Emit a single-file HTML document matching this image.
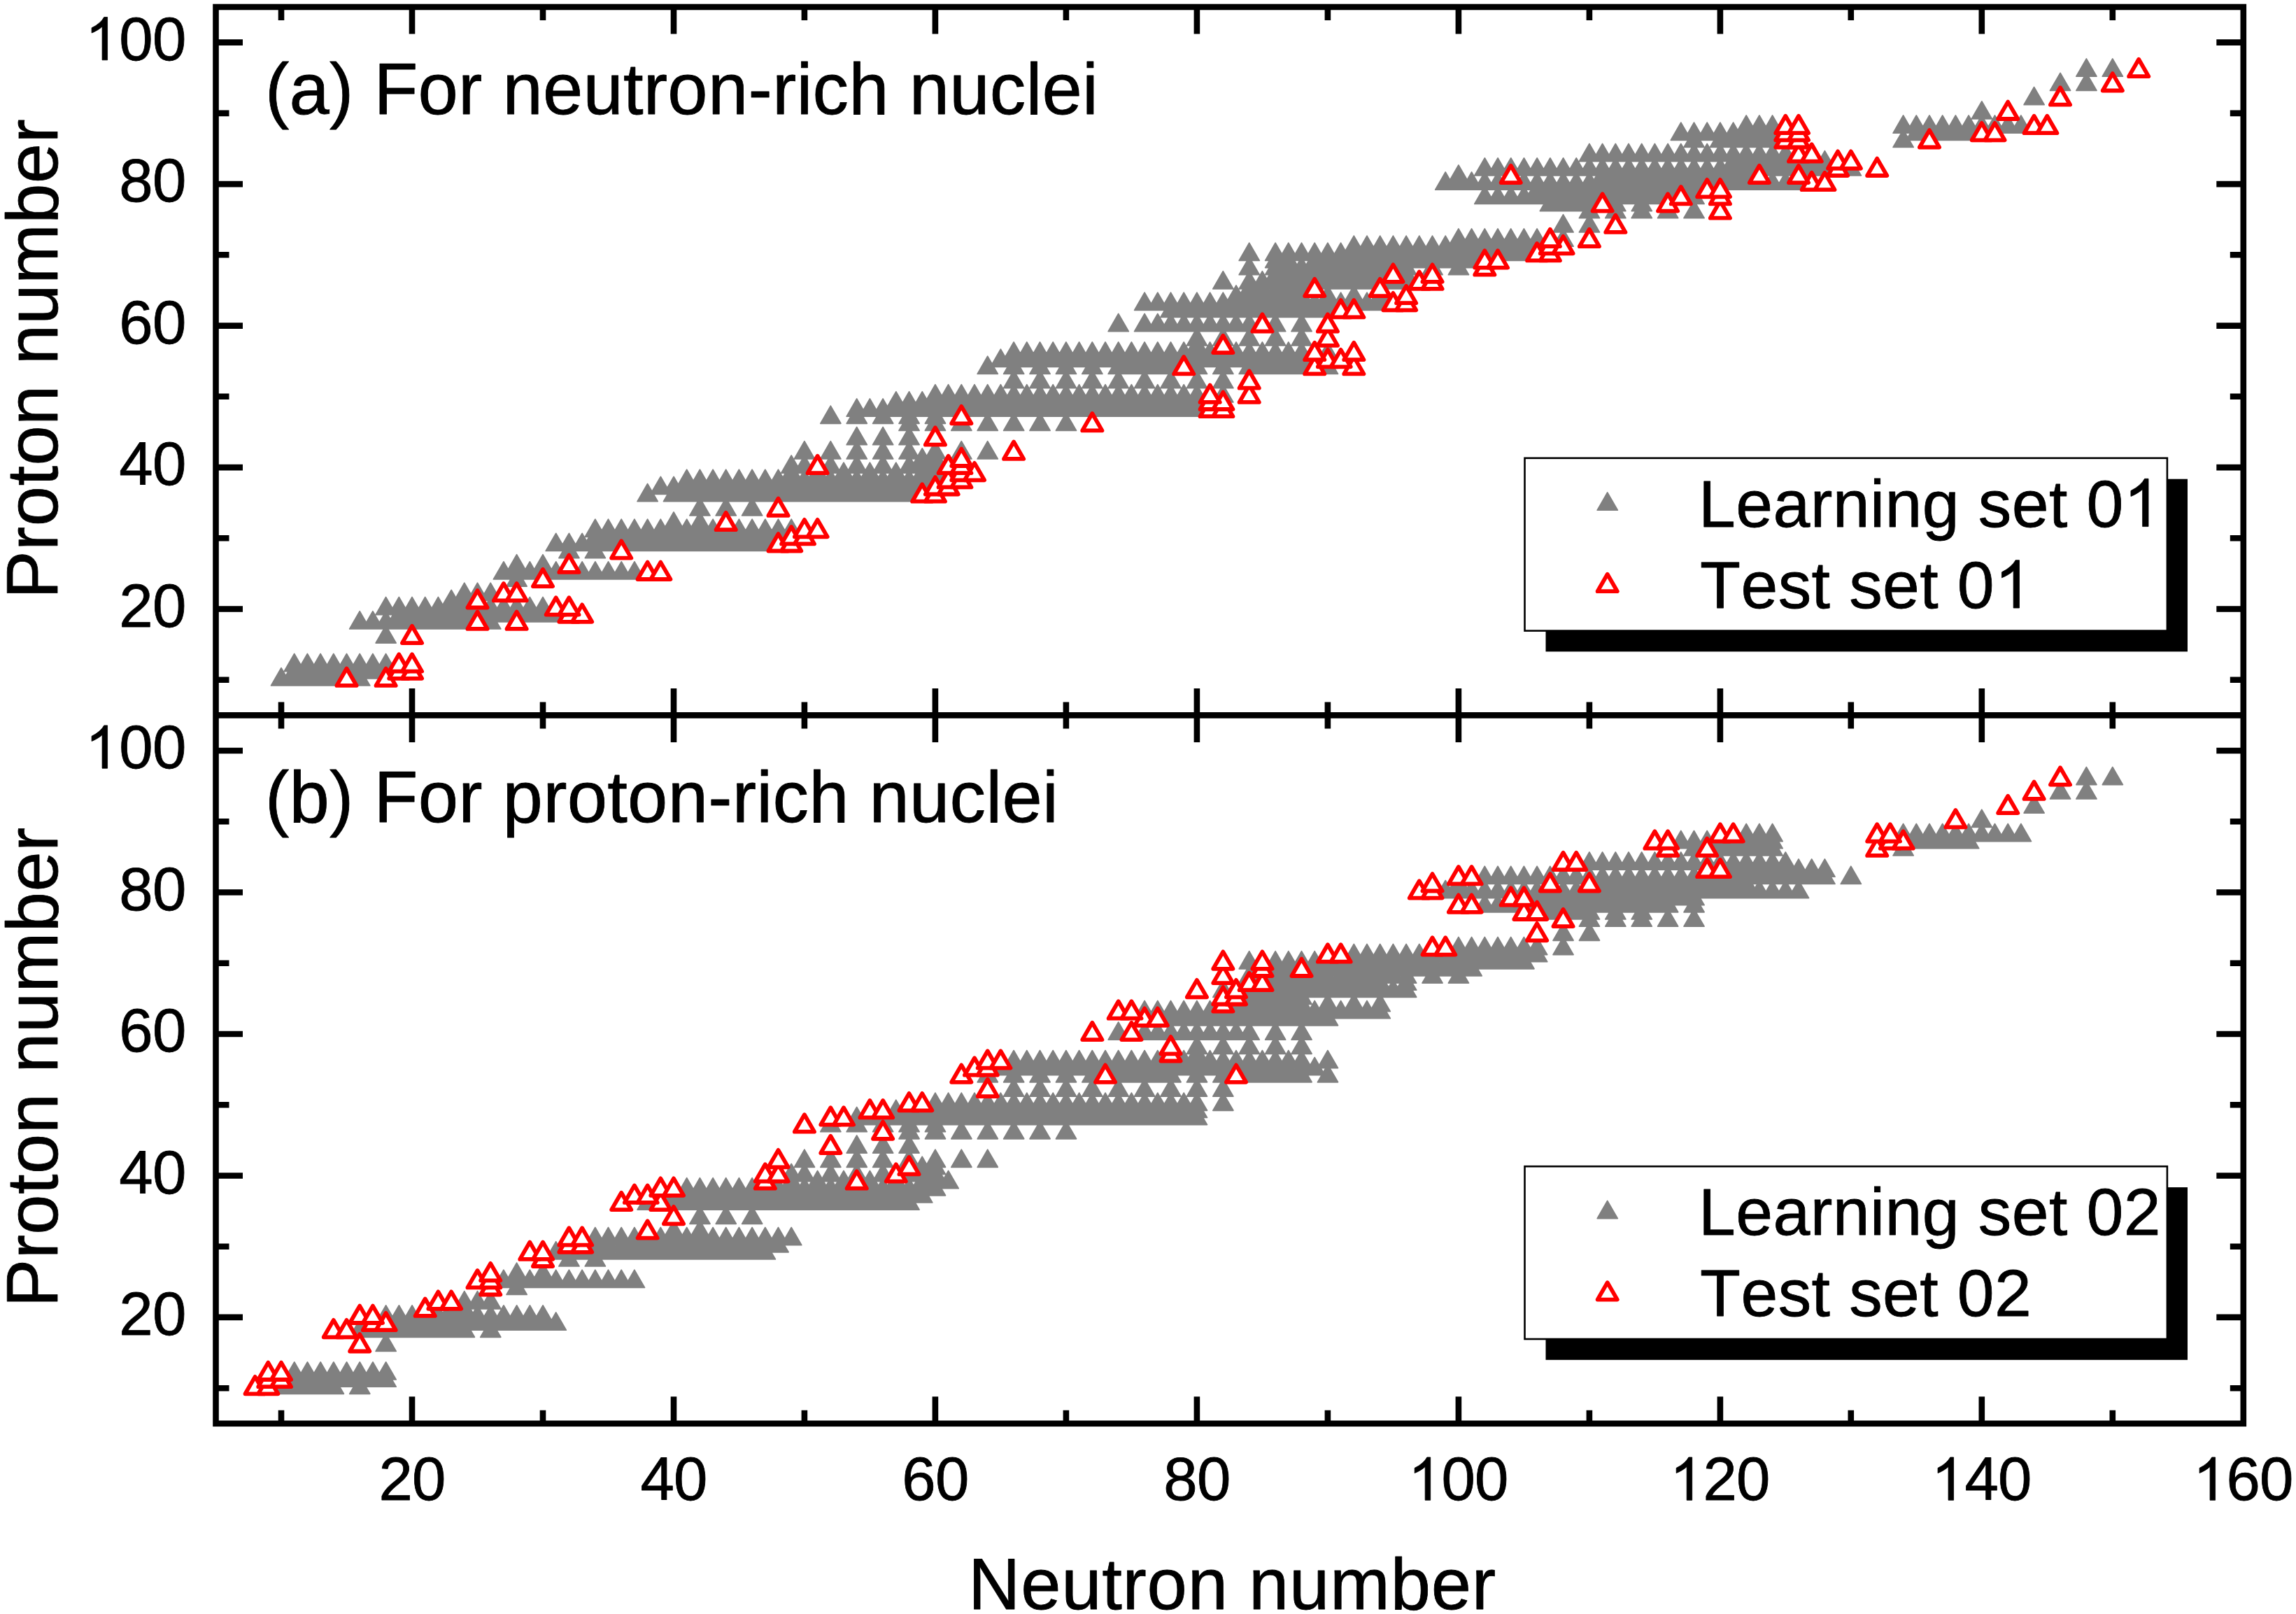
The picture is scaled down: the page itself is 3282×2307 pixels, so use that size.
<!DOCTYPE html><html><head><meta charset="utf-8"><title>chart</title><style>html,body{margin:0;padding:0;background:#fff}svg{display:block}text{font-family:"Liberation Sans",sans-serif;fill:#000;font-kerning:none;stroke:#000;stroke-width:0.8px;stroke-linejoin:round}</style></head><body><svg width="3282" height="2307" viewBox="0 0 3282 2307"><rect width="3282" height="2307" fill="#fff"/><defs><path id="r" d="M0 -16.3 L14.1 8.1 L-14.1 8.1 Z" fill="#fff" stroke="#f00" stroke-width="5.8" stroke-linejoin="round"/></defs><path d="M402 954.7l14.6 25.2h-29.1zM420.7 954.7l14.6 25.2h-29.1zM439.4 954.7l14.6 25.2h-29.1zM458.1 954.7l14.6 25.2h-29.1zM476.8 954.7l14.6 25.2h-29.1zM514.2 954.7l14.6 25.2h-29.1zM420.7 944.6l14.6 25.2h-29.1zM439.4 944.6l14.6 25.2h-29.1zM458.1 944.6l14.6 25.2h-29.1zM476.8 944.6l14.6 25.2h-29.1zM495.5 944.6l14.6 25.2h-29.1zM514.2 944.6l14.6 25.2h-29.1zM532.9 944.6l14.6 25.2h-29.1zM551.6 944.6l14.6 25.2h-29.1zM420.7 934.4l14.6 25.2h-29.1zM439.4 934.4l14.6 25.2h-29.1zM458.1 934.4l14.6 25.2h-29.1zM476.8 934.4l14.6 25.2h-29.1zM495.5 934.4l14.6 25.2h-29.1zM514.2 934.4l14.6 25.2h-29.1zM532.9 934.4l14.6 25.2h-29.1zM551.6 934.4l14.6 25.2h-29.1zM551.6 893.9l14.6 25.2h-29.1zM514.2 873.7l14.6 25.2h-29.1zM532.9 873.7l14.6 25.2h-29.1zM551.6 873.7l14.6 25.2h-29.1zM570.3 873.7l14.6 25.2h-29.1zM589 873.7l14.6 25.2h-29.1zM607.7 873.7l14.6 25.2h-29.1zM626.4 873.7l14.6 25.2h-29.1zM645.1 873.7l14.6 25.2h-29.1zM663.8 873.7l14.6 25.2h-29.1zM701.2 873.7l14.6 25.2h-29.1zM570.3 863.6l14.6 25.2h-29.1zM589 863.6l14.6 25.2h-29.1zM607.7 863.6l14.6 25.2h-29.1zM626.4 863.6l14.6 25.2h-29.1zM645.1 863.6l14.6 25.2h-29.1zM663.8 863.6l14.6 25.2h-29.1zM682.5 863.6l14.6 25.2h-29.1zM701.2 863.6l14.6 25.2h-29.1zM719.9 863.6l14.6 25.2h-29.1zM738.6 863.6l14.6 25.2h-29.1zM757.3 863.6l14.6 25.2h-29.1zM776 863.6l14.6 25.2h-29.1zM794.7 863.6l14.6 25.2h-29.1zM551.6 853.4l14.6 25.2h-29.1zM570.3 853.4l14.6 25.2h-29.1zM589 853.4l14.6 25.2h-29.1zM607.7 853.4l14.6 25.2h-29.1zM626.4 853.4l14.6 25.2h-29.1zM645.1 853.4l14.6 25.2h-29.1zM663.8 853.4l14.6 25.2h-29.1zM682.5 853.4l14.6 25.2h-29.1zM701.2 853.4l14.6 25.2h-29.1zM719.9 853.4l14.6 25.2h-29.1zM738.6 853.4l14.6 25.2h-29.1zM757.3 853.4l14.6 25.2h-29.1zM776 853.4l14.6 25.2h-29.1zM645.1 843.3l14.6 25.2h-29.1zM663.8 843.3l14.6 25.2h-29.1zM663.8 833.2l14.6 25.2h-29.1zM682.5 833.2l14.6 25.2h-29.1zM701.2 833.2l14.6 25.2h-29.1zM738.6 812.9l14.6 25.2h-29.1zM719.9 802.8l14.6 25.2h-29.1zM738.6 802.8l14.6 25.2h-29.1zM757.3 802.8l14.6 25.2h-29.1zM776 802.8l14.6 25.2h-29.1zM794.7 802.8l14.6 25.2h-29.1zM813.4 802.8l14.6 25.2h-29.1zM832.1 802.8l14.6 25.2h-29.1zM850.8 802.8l14.6 25.2h-29.1zM869.5 802.8l14.6 25.2h-29.1zM888.2 802.8l14.6 25.2h-29.1zM906.9 802.8l14.6 25.2h-29.1zM738.6 792.7l14.6 25.2h-29.1zM776 792.7l14.6 25.2h-29.1zM813.4 772.4l14.6 25.2h-29.1zM850.8 772.4l14.6 25.2h-29.1zM794.7 762.3l14.6 25.2h-29.1zM813.4 762.3l14.6 25.2h-29.1zM832.1 762.3l14.6 25.2h-29.1zM850.8 762.3l14.6 25.2h-29.1zM869.5 762.3l14.6 25.2h-29.1zM888.2 762.3l14.6 25.2h-29.1zM906.9 762.3l14.6 25.2h-29.1zM925.6 762.3l14.6 25.2h-29.1zM944.3 762.3l14.6 25.2h-29.1zM963 762.3l14.6 25.2h-29.1zM981.7 762.3l14.6 25.2h-29.1zM1000.4 762.3l14.6 25.2h-29.1zM1019.1 762.3l14.6 25.2h-29.1zM1037.7 762.3l14.6 25.2h-29.1zM1056.4 762.3l14.6 25.2h-29.1zM1075.1 762.3l14.6 25.2h-29.1zM1093.8 762.3l14.6 25.2h-29.1zM850.8 752.2l14.6 25.2h-29.1zM869.5 752.2l14.6 25.2h-29.1zM888.2 752.2l14.6 25.2h-29.1zM906.9 752.2l14.6 25.2h-29.1zM925.6 752.2l14.6 25.2h-29.1zM944.3 752.2l14.6 25.2h-29.1zM963 752.2l14.6 25.2h-29.1zM981.7 752.2l14.6 25.2h-29.1zM1000.4 752.2l14.6 25.2h-29.1zM1019.1 752.2l14.6 25.2h-29.1zM1037.7 752.2l14.6 25.2h-29.1zM1056.4 752.2l14.6 25.2h-29.1zM1075.1 752.2l14.6 25.2h-29.1zM1093.8 752.2l14.6 25.2h-29.1zM1112.5 752.2l14.6 25.2h-29.1zM850.8 742.1l14.6 25.2h-29.1zM869.5 742.1l14.6 25.2h-29.1zM888.2 742.1l14.6 25.2h-29.1zM906.9 742.1l14.6 25.2h-29.1zM925.6 742.1l14.6 25.2h-29.1zM944.3 742.1l14.6 25.2h-29.1zM963 742.1l14.6 25.2h-29.1zM981.7 742.1l14.6 25.2h-29.1zM1000.4 742.1l14.6 25.2h-29.1zM1019.1 742.1l14.6 25.2h-29.1zM1037.7 742.1l14.6 25.2h-29.1zM1056.4 742.1l14.6 25.2h-29.1zM1075.1 742.1l14.6 25.2h-29.1zM1093.8 742.1l14.6 25.2h-29.1zM1112.5 742.1l14.6 25.2h-29.1zM1131.2 742.1l14.6 25.2h-29.1zM963 732l14.6 25.2h-29.1zM1000.4 732l14.6 25.2h-29.1zM1000.4 711.7l14.6 25.2h-29.1zM1037.7 711.7l14.6 25.2h-29.1zM1075.1 711.7l14.6 25.2h-29.1zM925.6 691.5l14.6 25.2h-29.1zM963 691.5l14.6 25.2h-29.1zM981.7 691.5l14.6 25.2h-29.1zM1000.4 691.5l14.6 25.2h-29.1zM1019.1 691.5l14.6 25.2h-29.1zM1037.7 691.5l14.6 25.2h-29.1zM1056.4 691.5l14.6 25.2h-29.1zM1075.1 691.5l14.6 25.2h-29.1zM1093.8 691.5l14.6 25.2h-29.1zM1112.5 691.5l14.6 25.2h-29.1zM1131.2 691.5l14.6 25.2h-29.1zM1149.9 691.5l14.6 25.2h-29.1zM1168.6 691.5l14.6 25.2h-29.1zM1187.3 691.5l14.6 25.2h-29.1zM1206 691.5l14.6 25.2h-29.1zM1224.7 691.5l14.6 25.2h-29.1zM1243.4 691.5l14.6 25.2h-29.1zM1262.1 691.5l14.6 25.2h-29.1zM1280.8 691.5l14.6 25.2h-29.1zM1299.5 691.5l14.6 25.2h-29.1zM944.3 681.3l14.6 25.2h-29.1zM963 681.3l14.6 25.2h-29.1zM981.7 681.3l14.6 25.2h-29.1zM1000.4 681.3l14.6 25.2h-29.1zM1019.1 681.3l14.6 25.2h-29.1zM1037.7 681.3l14.6 25.2h-29.1zM1056.4 681.3l14.6 25.2h-29.1zM1075.1 681.3l14.6 25.2h-29.1zM1093.8 681.3l14.6 25.2h-29.1zM1112.5 681.3l14.6 25.2h-29.1zM1131.2 681.3l14.6 25.2h-29.1zM1149.9 681.3l14.6 25.2h-29.1zM1168.6 681.3l14.6 25.2h-29.1zM1187.3 681.3l14.6 25.2h-29.1zM1206 681.3l14.6 25.2h-29.1zM1224.7 681.3l14.6 25.2h-29.1zM1243.4 681.3l14.6 25.2h-29.1zM1262.1 681.3l14.6 25.2h-29.1zM1280.8 681.3l14.6 25.2h-29.1zM1299.5 681.3l14.6 25.2h-29.1zM1318.2 681.3l14.6 25.2h-29.1zM981.7 671.2l14.6 25.2h-29.1zM1000.4 671.2l14.6 25.2h-29.1zM1019.1 671.2l14.6 25.2h-29.1zM1037.7 671.2l14.6 25.2h-29.1zM1056.4 671.2l14.6 25.2h-29.1zM1075.1 671.2l14.6 25.2h-29.1zM1093.8 671.2l14.6 25.2h-29.1zM1112.5 671.2l14.6 25.2h-29.1zM1131.2 671.2l14.6 25.2h-29.1zM1149.9 671.2l14.6 25.2h-29.1zM1168.6 671.2l14.6 25.2h-29.1zM1187.3 671.2l14.6 25.2h-29.1zM1206 671.2l14.6 25.2h-29.1zM1224.7 671.2l14.6 25.2h-29.1zM1243.4 671.2l14.6 25.2h-29.1zM1262.1 671.2l14.6 25.2h-29.1zM1280.8 671.2l14.6 25.2h-29.1zM1299.5 671.2l14.6 25.2h-29.1zM1318.2 671.2l14.6 25.2h-29.1zM1336.9 671.2l14.6 25.2h-29.1zM1131.2 661.1l14.6 25.2h-29.1zM1168.6 661.1l14.6 25.2h-29.1zM1206 661.1l14.6 25.2h-29.1zM1243.4 661.1l14.6 25.2h-29.1zM1280.8 661.1l14.6 25.2h-29.1zM1318.2 661.1l14.6 25.2h-29.1zM1336.9 661.1l14.6 25.2h-29.1zM1355.6 661.1l14.6 25.2h-29.1zM1131.2 651l14.6 25.2h-29.1zM1149.9 651l14.6 25.2h-29.1zM1187.3 651l14.6 25.2h-29.1zM1224.7 651l14.6 25.2h-29.1zM1262.1 651l14.6 25.2h-29.1zM1299.5 651l14.6 25.2h-29.1zM1318.2 651l14.6 25.2h-29.1zM1336.9 651l14.6 25.2h-29.1zM1318.2 640.8l14.6 25.2h-29.1zM1336.9 640.8l14.6 25.2h-29.1zM1149.9 630.7l14.6 25.2h-29.1zM1187.3 630.7l14.6 25.2h-29.1zM1224.7 630.7l14.6 25.2h-29.1zM1262.1 630.7l14.6 25.2h-29.1zM1299.5 630.7l14.6 25.2h-29.1zM1336.9 630.7l14.6 25.2h-29.1zM1374.3 630.7l14.6 25.2h-29.1zM1411.7 630.7l14.6 25.2h-29.1zM1224.7 610.5l14.6 25.2h-29.1zM1262.1 610.5l14.6 25.2h-29.1zM1299.5 610.5l14.6 25.2h-29.1zM1299.5 590.2l14.6 25.2h-29.1zM1336.9 590.2l14.6 25.2h-29.1zM1374.3 590.2l14.6 25.2h-29.1zM1411.7 590.2l14.6 25.2h-29.1zM1449.1 590.2l14.6 25.2h-29.1zM1486.5 590.2l14.6 25.2h-29.1zM1523.9 590.2l14.6 25.2h-29.1zM1187.3 580.1l14.6 25.2h-29.1zM1224.7 580.1l14.6 25.2h-29.1zM1262.1 580.1l14.6 25.2h-29.1zM1299.5 580.1l14.6 25.2h-29.1zM1336.9 580.1l14.6 25.2h-29.1zM1224.7 570l14.6 25.2h-29.1zM1243.4 570l14.6 25.2h-29.1zM1262.1 570l14.6 25.2h-29.1zM1280.8 570l14.6 25.2h-29.1zM1299.5 570l14.6 25.2h-29.1zM1318.2 570l14.6 25.2h-29.1zM1336.9 570l14.6 25.2h-29.1zM1355.6 570l14.6 25.2h-29.1zM1374.3 570l14.6 25.2h-29.1zM1393 570l14.6 25.2h-29.1zM1411.7 570l14.6 25.2h-29.1zM1430.4 570l14.6 25.2h-29.1zM1449.1 570l14.6 25.2h-29.1zM1467.8 570l14.6 25.2h-29.1zM1486.5 570l14.6 25.2h-29.1zM1505.2 570l14.6 25.2h-29.1zM1523.9 570l14.6 25.2h-29.1zM1542.6 570l14.6 25.2h-29.1zM1561.3 570l14.6 25.2h-29.1zM1580 570l14.6 25.2h-29.1zM1598.7 570l14.6 25.2h-29.1zM1617.4 570l14.6 25.2h-29.1zM1636.1 570l14.6 25.2h-29.1zM1654.8 570l14.6 25.2h-29.1zM1673.5 570l14.6 25.2h-29.1zM1692.2 570l14.6 25.2h-29.1zM1710.9 570l14.6 25.2h-29.1zM1280.8 559.8l14.6 25.2h-29.1zM1299.5 559.8l14.6 25.2h-29.1zM1318.2 559.8l14.6 25.2h-29.1zM1336.9 559.8l14.6 25.2h-29.1zM1355.6 559.8l14.6 25.2h-29.1zM1374.3 559.8l14.6 25.2h-29.1zM1393 559.8l14.6 25.2h-29.1zM1411.7 559.8l14.6 25.2h-29.1zM1430.4 559.8l14.6 25.2h-29.1zM1449.1 559.8l14.6 25.2h-29.1zM1467.8 559.8l14.6 25.2h-29.1zM1486.5 559.8l14.6 25.2h-29.1zM1505.2 559.8l14.6 25.2h-29.1zM1523.9 559.8l14.6 25.2h-29.1zM1542.6 559.8l14.6 25.2h-29.1zM1561.3 559.8l14.6 25.2h-29.1zM1580 559.8l14.6 25.2h-29.1zM1598.7 559.8l14.6 25.2h-29.1zM1617.4 559.8l14.6 25.2h-29.1zM1636.1 559.8l14.6 25.2h-29.1zM1654.8 559.8l14.6 25.2h-29.1zM1673.5 559.8l14.6 25.2h-29.1zM1692.2 559.8l14.6 25.2h-29.1zM1710.9 559.8l14.6 25.2h-29.1zM1336.9 549.7l14.6 25.2h-29.1zM1355.6 549.7l14.6 25.2h-29.1zM1374.3 549.7l14.6 25.2h-29.1zM1393 549.7l14.6 25.2h-29.1zM1411.7 549.7l14.6 25.2h-29.1zM1430.4 549.7l14.6 25.2h-29.1zM1449.1 549.7l14.6 25.2h-29.1zM1467.8 549.7l14.6 25.2h-29.1zM1486.5 549.7l14.6 25.2h-29.1zM1505.2 549.7l14.6 25.2h-29.1zM1523.9 549.7l14.6 25.2h-29.1zM1542.6 549.7l14.6 25.2h-29.1zM1561.3 549.7l14.6 25.2h-29.1zM1580 549.7l14.6 25.2h-29.1zM1598.7 549.7l14.6 25.2h-29.1zM1617.4 549.7l14.6 25.2h-29.1zM1636.1 549.7l14.6 25.2h-29.1zM1654.8 549.7l14.6 25.2h-29.1zM1673.5 549.7l14.6 25.2h-29.1zM1692.2 549.7l14.6 25.2h-29.1zM1710.9 549.7l14.6 25.2h-29.1zM1748.3 549.7l14.6 25.2h-29.1zM1449.1 529.5l14.6 25.2h-29.1zM1486.5 529.5l14.6 25.2h-29.1zM1523.9 529.5l14.6 25.2h-29.1zM1561.3 529.5l14.6 25.2h-29.1zM1598.7 529.5l14.6 25.2h-29.1zM1636.1 529.5l14.6 25.2h-29.1zM1673.5 529.5l14.6 25.2h-29.1zM1710.9 529.5l14.6 25.2h-29.1zM1748.3 529.5l14.6 25.2h-29.1zM1411.7 509.2l14.6 25.2h-29.1zM1449.1 509.2l14.6 25.2h-29.1zM1486.5 509.2l14.6 25.2h-29.1zM1523.9 509.2l14.6 25.2h-29.1zM1561.3 509.2l14.6 25.2h-29.1zM1598.7 509.2l14.6 25.2h-29.1zM1617.4 509.2l14.6 25.2h-29.1zM1636.1 509.2l14.6 25.2h-29.1zM1654.8 509.2l14.6 25.2h-29.1zM1673.5 509.2l14.6 25.2h-29.1zM1710.9 509.2l14.6 25.2h-29.1zM1748.3 509.2l14.6 25.2h-29.1zM1785.7 509.2l14.6 25.2h-29.1zM1804.4 509.2l14.6 25.2h-29.1zM1823.1 509.2l14.6 25.2h-29.1zM1841.8 509.2l14.6 25.2h-29.1zM1860.5 509.2l14.6 25.2h-29.1zM1897.9 509.2l14.6 25.2h-29.1zM1430.4 499.1l14.6 25.2h-29.1zM1449.1 499.1l14.6 25.2h-29.1zM1467.8 499.1l14.6 25.2h-29.1zM1486.5 499.1l14.6 25.2h-29.1zM1505.2 499.1l14.6 25.2h-29.1zM1523.9 499.1l14.6 25.2h-29.1zM1542.6 499.1l14.6 25.2h-29.1zM1561.3 499.1l14.6 25.2h-29.1zM1580 499.1l14.6 25.2h-29.1zM1598.7 499.1l14.6 25.2h-29.1zM1617.4 499.1l14.6 25.2h-29.1zM1636.1 499.1l14.6 25.2h-29.1zM1654.8 499.1l14.6 25.2h-29.1zM1673.5 499.1l14.6 25.2h-29.1zM1692.2 499.1l14.6 25.2h-29.1zM1710.9 499.1l14.6 25.2h-29.1zM1729.6 499.1l14.6 25.2h-29.1zM1748.3 499.1l14.6 25.2h-29.1zM1767 499.1l14.6 25.2h-29.1zM1785.7 499.1l14.6 25.2h-29.1zM1804.4 499.1l14.6 25.2h-29.1zM1823.1 499.1l14.6 25.2h-29.1zM1841.8 499.1l14.6 25.2h-29.1zM1860.5 499.1l14.6 25.2h-29.1zM1879.2 499.1l14.6 25.2h-29.1zM1449.1 489l14.6 25.2h-29.1zM1467.8 489l14.6 25.2h-29.1zM1486.5 489l14.6 25.2h-29.1zM1505.2 489l14.6 25.2h-29.1zM1523.9 489l14.6 25.2h-29.1zM1542.6 489l14.6 25.2h-29.1zM1561.3 489l14.6 25.2h-29.1zM1580 489l14.6 25.2h-29.1zM1598.7 489l14.6 25.2h-29.1zM1617.4 489l14.6 25.2h-29.1zM1636.1 489l14.6 25.2h-29.1zM1654.8 489l14.6 25.2h-29.1zM1673.5 489l14.6 25.2h-29.1zM1692.2 489l14.6 25.2h-29.1zM1710.9 489l14.6 25.2h-29.1zM1729.6 489l14.6 25.2h-29.1zM1748.3 489l14.6 25.2h-29.1zM1767 489l14.6 25.2h-29.1zM1785.7 489l14.6 25.2h-29.1zM1804.4 489l14.6 25.2h-29.1zM1823.1 489l14.6 25.2h-29.1zM1841.8 489l14.6 25.2h-29.1zM1860.5 489l14.6 25.2h-29.1zM1897.9 489l14.6 25.2h-29.1zM1710.9 478.9l14.6 25.2h-29.1zM1710.9 468.7l14.6 25.2h-29.1zM1748.3 468.7l14.6 25.2h-29.1zM1785.7 468.7l14.6 25.2h-29.1zM1823.1 468.7l14.6 25.2h-29.1zM1860.5 468.7l14.6 25.2h-29.1zM1598.7 448.5l14.6 25.2h-29.1zM1636.1 448.5l14.6 25.2h-29.1zM1654.8 448.5l14.6 25.2h-29.1zM1673.5 448.5l14.6 25.2h-29.1zM1692.2 448.5l14.6 25.2h-29.1zM1710.9 448.5l14.6 25.2h-29.1zM1729.6 448.5l14.6 25.2h-29.1zM1748.3 448.5l14.6 25.2h-29.1zM1767 448.5l14.6 25.2h-29.1zM1785.7 448.5l14.6 25.2h-29.1zM1823.1 448.5l14.6 25.2h-29.1zM1860.5 448.5l14.6 25.2h-29.1zM1673.5 428.2l14.6 25.2h-29.1zM1692.2 428.2l14.6 25.2h-29.1zM1710.9 428.2l14.6 25.2h-29.1zM1729.6 428.2l14.6 25.2h-29.1zM1748.3 428.2l14.6 25.2h-29.1zM1767 428.2l14.6 25.2h-29.1zM1785.7 428.2l14.6 25.2h-29.1zM1804.4 428.2l14.6 25.2h-29.1zM1823.1 428.2l14.6 25.2h-29.1zM1841.8 428.2l14.6 25.2h-29.1zM1860.5 428.2l14.6 25.2h-29.1zM1879.2 428.2l14.6 25.2h-29.1zM1897.9 428.2l14.6 25.2h-29.1zM1636.1 418.1l14.6 25.2h-29.1zM1654.8 418.1l14.6 25.2h-29.1zM1673.5 418.1l14.6 25.2h-29.1zM1692.2 418.1l14.6 25.2h-29.1zM1710.9 418.1l14.6 25.2h-29.1zM1729.6 418.1l14.6 25.2h-29.1zM1748.3 418.1l14.6 25.2h-29.1zM1767 418.1l14.6 25.2h-29.1zM1785.7 418.1l14.6 25.2h-29.1zM1804.4 418.1l14.6 25.2h-29.1zM1823.1 418.1l14.6 25.2h-29.1zM1841.8 418.1l14.6 25.2h-29.1zM1860.5 418.1l14.6 25.2h-29.1zM1879.2 418.1l14.6 25.2h-29.1zM1897.9 418.1l14.6 25.2h-29.1zM1916.6 418.1l14.6 25.2h-29.1zM1935.3 418.1l14.6 25.2h-29.1zM1954 418.1l14.6 25.2h-29.1zM1972.7 418.1l14.6 25.2h-29.1zM1767 408l14.6 25.2h-29.1zM1785.7 408l14.6 25.2h-29.1zM1804.4 408l14.6 25.2h-29.1zM1823.1 408l14.6 25.2h-29.1zM1841.8 408l14.6 25.2h-29.1zM1860.5 408l14.6 25.2h-29.1zM1897.9 408l14.6 25.2h-29.1zM1935.3 408l14.6 25.2h-29.1zM1972.7 408l14.6 25.2h-29.1zM1785.7 397.9l14.6 25.2h-29.1zM1804.4 397.9l14.6 25.2h-29.1zM1823.1 397.9l14.6 25.2h-29.1zM1841.8 397.9l14.6 25.2h-29.1zM1860.5 397.9l14.6 25.2h-29.1zM1748.3 387.7l14.6 25.2h-29.1zM1785.7 387.7l14.6 25.2h-29.1zM1804.4 387.7l14.6 25.2h-29.1zM1823.1 387.7l14.6 25.2h-29.1zM1841.8 387.7l14.6 25.2h-29.1zM1860.5 387.7l14.6 25.2h-29.1zM1879.2 387.7l14.6 25.2h-29.1zM1897.9 387.7l14.6 25.2h-29.1zM1916.6 387.7l14.6 25.2h-29.1zM1935.3 387.7l14.6 25.2h-29.1zM1954 387.7l14.6 25.2h-29.1zM1972.7 387.7l14.6 25.2h-29.1zM1991.4 387.7l14.6 25.2h-29.1zM2010.1 387.7l14.6 25.2h-29.1zM1823.1 377.6l14.6 25.2h-29.1zM1841.8 377.6l14.6 25.2h-29.1zM1860.5 377.6l14.6 25.2h-29.1zM1879.2 377.6l14.6 25.2h-29.1zM1897.9 377.6l14.6 25.2h-29.1zM1916.6 377.6l14.6 25.2h-29.1zM1935.3 377.6l14.6 25.2h-29.1zM1954 377.6l14.6 25.2h-29.1zM1972.7 377.6l14.6 25.2h-29.1zM2010.1 377.6l14.6 25.2h-29.1zM1785.7 367.5l14.6 25.2h-29.1zM1823.1 367.5l14.6 25.2h-29.1zM1841.8 367.5l14.6 25.2h-29.1zM1860.5 367.5l14.6 25.2h-29.1zM1879.2 367.5l14.6 25.2h-29.1zM1897.9 367.5l14.6 25.2h-29.1zM1916.6 367.5l14.6 25.2h-29.1zM1935.3 367.5l14.6 25.2h-29.1zM1954 367.5l14.6 25.2h-29.1zM1972.7 367.5l14.6 25.2h-29.1zM1991.4 367.5l14.6 25.2h-29.1zM2010.1 367.5l14.6 25.2h-29.1zM2047.5 367.5l14.6 25.2h-29.1zM2084.9 367.5l14.6 25.2h-29.1zM1823.1 357.4l14.6 25.2h-29.1zM1841.8 357.4l14.6 25.2h-29.1zM1879.2 357.4l14.6 25.2h-29.1zM1897.9 357.4l14.6 25.2h-29.1zM1916.6 357.4l14.6 25.2h-29.1zM1935.3 357.4l14.6 25.2h-29.1zM1954 357.4l14.6 25.2h-29.1zM1972.7 357.4l14.6 25.2h-29.1zM1991.4 357.4l14.6 25.2h-29.1zM2010.1 357.4l14.6 25.2h-29.1zM2028.8 357.4l14.6 25.2h-29.1zM2047.5 357.4l14.6 25.2h-29.1zM2066.2 357.4l14.6 25.2h-29.1zM2084.9 357.4l14.6 25.2h-29.1zM2103.6 357.4l14.6 25.2h-29.1zM1785.7 347.2l14.6 25.2h-29.1zM1823.1 347.2l14.6 25.2h-29.1zM1841.8 347.2l14.6 25.2h-29.1zM1860.5 347.2l14.6 25.2h-29.1zM1879.2 347.2l14.6 25.2h-29.1zM1897.9 347.2l14.6 25.2h-29.1zM1916.6 347.2l14.6 25.2h-29.1zM1935.3 347.2l14.6 25.2h-29.1zM1954 347.2l14.6 25.2h-29.1zM1972.7 347.2l14.6 25.2h-29.1zM1991.4 347.2l14.6 25.2h-29.1zM2010.1 347.2l14.6 25.2h-29.1zM2028.8 347.2l14.6 25.2h-29.1zM2047.5 347.2l14.6 25.2h-29.1zM2066.2 347.2l14.6 25.2h-29.1zM2084.9 347.2l14.6 25.2h-29.1zM2103.6 347.2l14.6 25.2h-29.1zM2122.3 347.2l14.6 25.2h-29.1zM2141 347.2l14.6 25.2h-29.1zM2159.7 347.2l14.6 25.2h-29.1zM2178.4 347.2l14.6 25.2h-29.1zM1935.3 337.1l14.6 25.2h-29.1zM1954 337.1l14.6 25.2h-29.1zM1972.7 337.1l14.6 25.2h-29.1zM1991.4 337.1l14.6 25.2h-29.1zM2010.1 337.1l14.6 25.2h-29.1zM2028.8 337.1l14.6 25.2h-29.1zM2047.5 337.1l14.6 25.2h-29.1zM2066.2 337.1l14.6 25.2h-29.1zM2084.9 337.1l14.6 25.2h-29.1zM2103.6 337.1l14.6 25.2h-29.1zM2122.3 337.1l14.6 25.2h-29.1zM2141 337.1l14.6 25.2h-29.1zM2159.7 337.1l14.6 25.2h-29.1zM2178.4 337.1l14.6 25.2h-29.1zM2197.1 337.1l14.6 25.2h-29.1zM2084.9 327l14.6 25.2h-29.1zM2103.6 327l14.6 25.2h-29.1zM2122.3 327l14.6 25.2h-29.1zM2141 327l14.6 25.2h-29.1zM2159.7 327l14.6 25.2h-29.1zM2178.4 327l14.6 25.2h-29.1zM2197.1 327l14.6 25.2h-29.1zM2234.5 327l14.6 25.2h-29.1zM2234.5 306.7l14.6 25.2h-29.1zM2271.9 306.7l14.6 25.2h-29.1zM2271.9 286.5l14.6 25.2h-29.1zM2309.3 286.5l14.6 25.2h-29.1zM2346.7 286.5l14.6 25.2h-29.1zM2384.1 286.5l14.6 25.2h-29.1zM2421.5 286.5l14.6 25.2h-29.1zM2215.8 276.4l14.6 25.2h-29.1zM2234.5 276.4l14.6 25.2h-29.1zM2253.2 276.4l14.6 25.2h-29.1zM2271.9 276.4l14.6 25.2h-29.1zM2309.3 276.4l14.6 25.2h-29.1zM2346.7 276.4l14.6 25.2h-29.1zM2122.3 266.2l14.6 25.2h-29.1zM2141 266.2l14.6 25.2h-29.1zM2159.7 266.2l14.6 25.2h-29.1zM2178.4 266.2l14.6 25.2h-29.1zM2197.1 266.2l14.6 25.2h-29.1zM2215.8 266.2l14.6 25.2h-29.1zM2234.5 266.2l14.6 25.2h-29.1zM2253.2 266.2l14.6 25.2h-29.1zM2271.9 266.2l14.6 25.2h-29.1zM2290.6 266.2l14.6 25.2h-29.1zM2309.3 266.2l14.6 25.2h-29.1zM2328 266.2l14.6 25.2h-29.1zM2346.7 266.2l14.6 25.2h-29.1zM2365.4 266.2l14.6 25.2h-29.1zM2384.1 266.2l14.6 25.2h-29.1zM2421.5 266.2l14.6 25.2h-29.1zM2197.1 256.1l14.6 25.2h-29.1zM2215.8 256.1l14.6 25.2h-29.1zM2234.5 256.1l14.6 25.2h-29.1zM2253.2 256.1l14.6 25.2h-29.1zM2271.9 256.1l14.6 25.2h-29.1zM2290.6 256.1l14.6 25.2h-29.1zM2309.3 256.1l14.6 25.2h-29.1zM2328 256.1l14.6 25.2h-29.1zM2346.7 256.1l14.6 25.2h-29.1zM2365.4 256.1l14.6 25.2h-29.1zM2384.1 256.1l14.6 25.2h-29.1zM2402.8 256.1l14.6 25.2h-29.1zM2421.5 256.1l14.6 25.2h-29.1zM2066.2 246l14.6 25.2h-29.1zM2084.9 246l14.6 25.2h-29.1zM2103.6 246l14.6 25.2h-29.1zM2122.3 246l14.6 25.2h-29.1zM2141 246l14.6 25.2h-29.1zM2159.7 246l14.6 25.2h-29.1zM2178.4 246l14.6 25.2h-29.1zM2197.1 246l14.6 25.2h-29.1zM2215.8 246l14.6 25.2h-29.1zM2234.5 246l14.6 25.2h-29.1zM2253.2 246l14.6 25.2h-29.1zM2271.9 246l14.6 25.2h-29.1zM2290.6 246l14.6 25.2h-29.1zM2309.3 246l14.6 25.2h-29.1zM2328 246l14.6 25.2h-29.1zM2346.7 246l14.6 25.2h-29.1zM2365.4 246l14.6 25.2h-29.1zM2384.1 246l14.6 25.2h-29.1zM2402.8 246l14.6 25.2h-29.1zM2421.5 246l14.6 25.2h-29.1zM2440.2 246l14.6 25.2h-29.1zM2458.9 246l14.6 25.2h-29.1zM2477.6 246l14.6 25.2h-29.1zM2496.2 246l14.6 25.2h-29.1zM2514.9 246l14.6 25.2h-29.1zM2533.6 246l14.6 25.2h-29.1zM2552.3 246l14.6 25.2h-29.1zM2571 246l14.6 25.2h-29.1zM2084.9 235.9l14.6 25.2h-29.1zM2290.6 235.9l14.6 25.2h-29.1zM2309.3 235.9l14.6 25.2h-29.1zM2328 235.9l14.6 25.2h-29.1zM2346.7 235.9l14.6 25.2h-29.1zM2365.4 235.9l14.6 25.2h-29.1zM2384.1 235.9l14.6 25.2h-29.1zM2402.8 235.9l14.6 25.2h-29.1zM2421.5 235.9l14.6 25.2h-29.1zM2440.2 235.9l14.6 25.2h-29.1zM2458.9 235.9l14.6 25.2h-29.1zM2477.6 235.9l14.6 25.2h-29.1zM2496.2 235.9l14.6 25.2h-29.1zM2122.3 225.8l14.6 25.2h-29.1zM2141 225.8l14.6 25.2h-29.1zM2159.7 225.8l14.6 25.2h-29.1zM2178.4 225.8l14.6 25.2h-29.1zM2197.1 225.8l14.6 25.2h-29.1zM2215.8 225.8l14.6 25.2h-29.1zM2234.5 225.8l14.6 25.2h-29.1zM2253.2 225.8l14.6 25.2h-29.1zM2271.9 225.8l14.6 25.2h-29.1zM2290.6 225.8l14.6 25.2h-29.1zM2309.3 225.8l14.6 25.2h-29.1zM2328 225.8l14.6 25.2h-29.1zM2346.7 225.8l14.6 25.2h-29.1zM2365.4 225.8l14.6 25.2h-29.1zM2384.1 225.8l14.6 25.2h-29.1zM2402.8 225.8l14.6 25.2h-29.1zM2421.5 225.8l14.6 25.2h-29.1zM2440.2 225.8l14.6 25.2h-29.1zM2458.9 225.8l14.6 25.2h-29.1zM2477.6 225.8l14.6 25.2h-29.1zM2496.2 225.8l14.6 25.2h-29.1zM2514.9 225.8l14.6 25.2h-29.1zM2533.6 225.8l14.6 25.2h-29.1zM2552.3 225.8l14.6 25.2h-29.1zM2571 225.8l14.6 25.2h-29.1zM2589.7 225.8l14.6 25.2h-29.1zM2608.4 225.8l14.6 25.2h-29.1zM2645.8 225.8l14.6 25.2h-29.1zM2477.6 215.6l14.6 25.2h-29.1zM2496.2 215.6l14.6 25.2h-29.1zM2514.9 215.6l14.6 25.2h-29.1zM2533.6 215.6l14.6 25.2h-29.1zM2552.3 215.6l14.6 25.2h-29.1zM2571 215.6l14.6 25.2h-29.1zM2589.7 215.6l14.6 25.2h-29.1zM2608.4 215.6l14.6 25.2h-29.1zM2271.9 205.5l14.6 25.2h-29.1zM2290.6 205.5l14.6 25.2h-29.1zM2309.3 205.5l14.6 25.2h-29.1zM2328 205.5l14.6 25.2h-29.1zM2346.7 205.5l14.6 25.2h-29.1zM2365.4 205.5l14.6 25.2h-29.1zM2384.1 205.5l14.6 25.2h-29.1zM2402.8 205.5l14.6 25.2h-29.1zM2421.5 205.5l14.6 25.2h-29.1zM2440.2 205.5l14.6 25.2h-29.1zM2458.9 205.5l14.6 25.2h-29.1zM2477.6 205.5l14.6 25.2h-29.1zM2496.2 205.5l14.6 25.2h-29.1zM2514.9 205.5l14.6 25.2h-29.1zM2533.6 205.5l14.6 25.2h-29.1zM2552.3 205.5l14.6 25.2h-29.1zM2421.5 185.3l14.6 25.2h-29.1zM2458.9 185.3l14.6 25.2h-29.1zM2477.6 185.3l14.6 25.2h-29.1zM2496.2 185.3l14.6 25.2h-29.1zM2514.9 185.3l14.6 25.2h-29.1zM2533.6 185.3l14.6 25.2h-29.1zM2720.6 185.3l14.6 25.2h-29.1zM2402.8 175.1l14.6 25.2h-29.1zM2421.5 175.1l14.6 25.2h-29.1zM2440.2 175.1l14.6 25.2h-29.1zM2458.9 175.1l14.6 25.2h-29.1zM2477.6 175.1l14.6 25.2h-29.1zM2496.2 175.1l14.6 25.2h-29.1zM2514.9 175.1l14.6 25.2h-29.1zM2533.6 175.1l14.6 25.2h-29.1zM2739.3 175.1l14.6 25.2h-29.1zM2758 175.1l14.6 25.2h-29.1zM2776.7 175.1l14.6 25.2h-29.1zM2795.4 175.1l14.6 25.2h-29.1zM2814.1 175.1l14.6 25.2h-29.1zM2496.2 165l14.6 25.2h-29.1zM2514.9 165l14.6 25.2h-29.1zM2533.6 165l14.6 25.2h-29.1zM2720.6 165l14.6 25.2h-29.1zM2739.3 165l14.6 25.2h-29.1zM2758 165l14.6 25.2h-29.1zM2776.7 165l14.6 25.2h-29.1zM2795.4 165l14.6 25.2h-29.1zM2814.1 165l14.6 25.2h-29.1zM2832.8 165l14.6 25.2h-29.1zM2851.5 165l14.6 25.2h-29.1zM2870.2 165l14.6 25.2h-29.1zM2888.9 165l14.6 25.2h-29.1zM2832.8 144.8l14.6 25.2h-29.1zM2907.6 124.5l14.6 25.2h-29.1zM2945 104.3l14.6 25.2h-29.1zM2982.4 104.3l14.6 25.2h-29.1zM2982.4 84l14.6 25.2h-29.1zM3019.8 84l14.6 25.2h-29.1z" fill="#808080" stroke="#808080" stroke-width="1.7" stroke-linejoin="round"/><use href="#r" x="495.5" y="971.8"/><use href="#r" x="551.6" y="971.8"/><use href="#r" x="570.3" y="961.7"/><use href="#r" x="589" y="961.7"/><use href="#r" x="570.3" y="951.5"/><use href="#r" x="589" y="951.5"/><use href="#r" x="589" y="911"/><use href="#r" x="682.5" y="890.8"/><use href="#r" x="738.6" y="890.8"/><use href="#r" x="813.4" y="880.7"/><use href="#r" x="832.1" y="880.7"/><use href="#r" x="794.7" y="870.5"/><use href="#r" x="813.4" y="870.5"/><use href="#r" x="682.5" y="860.4"/><use href="#r" x="719.9" y="850.3"/><use href="#r" x="738.6" y="850.3"/><use href="#r" x="776" y="830"/><use href="#r" x="925.6" y="819.9"/><use href="#r" x="944.3" y="819.9"/><use href="#r" x="813.4" y="809.8"/><use href="#r" x="888.2" y="789.5"/><use href="#r" x="1112.5" y="779.4"/><use href="#r" x="1131.2" y="779.4"/><use href="#r" x="1131.2" y="769.3"/><use href="#r" x="1149.9" y="769.3"/><use href="#r" x="1149.9" y="759.2"/><use href="#r" x="1168.6" y="759.2"/><use href="#r" x="1037.7" y="749.1"/><use href="#r" x="1112.5" y="728.8"/><use href="#r" x="1318.2" y="708.6"/><use href="#r" x="1336.9" y="708.6"/><use href="#r" x="1336.9" y="698.4"/><use href="#r" x="1355.6" y="698.4"/><use href="#r" x="1355.6" y="688.3"/><use href="#r" x="1374.3" y="688.3"/><use href="#r" x="1374.3" y="678.2"/><use href="#r" x="1393" y="678.2"/><use href="#r" x="1168.6" y="668.1"/><use href="#r" x="1355.6" y="668.1"/><use href="#r" x="1374.3" y="668.1"/><use href="#r" x="1374.3" y="657.9"/><use href="#r" x="1449.1" y="647.8"/><use href="#r" x="1336.9" y="627.6"/><use href="#r" x="1561.3" y="607.3"/><use href="#r" x="1374.3" y="597.2"/><use href="#r" x="1729.6" y="587.1"/><use href="#r" x="1748.3" y="587.1"/><use href="#r" x="1729.6" y="576.9"/><use href="#r" x="1748.3" y="576.9"/><use href="#r" x="1729.6" y="566.8"/><use href="#r" x="1785.7" y="566.8"/><use href="#r" x="1785.7" y="546.6"/><use href="#r" x="1692.2" y="526.3"/><use href="#r" x="1879.2" y="526.3"/><use href="#r" x="1935.3" y="526.3"/><use href="#r" x="1897.9" y="516.2"/><use href="#r" x="1916.6" y="516.2"/><use href="#r" x="1879.2" y="506.1"/><use href="#r" x="1935.3" y="506.1"/><use href="#r" x="1748.3" y="496"/><use href="#r" x="1897.9" y="485.8"/><use href="#r" x="1804.4" y="465.6"/><use href="#r" x="1897.9" y="465.6"/><use href="#r" x="1916.6" y="445.3"/><use href="#r" x="1935.3" y="445.3"/><use href="#r" x="1991.4" y="435.2"/><use href="#r" x="2010.1" y="435.2"/><use href="#r" x="2010.1" y="425.1"/><use href="#r" x="1879.2" y="415"/><use href="#r" x="1972.7" y="415"/><use href="#r" x="2028.8" y="404.8"/><use href="#r" x="2047.5" y="404.8"/><use href="#r" x="1991.4" y="394.7"/><use href="#r" x="2047.5" y="394.7"/><use href="#r" x="2122.3" y="384.6"/><use href="#r" x="2122.3" y="374.5"/><use href="#r" x="2141" y="374.5"/><use href="#r" x="2197.1" y="364.3"/><use href="#r" x="2215.8" y="364.3"/><use href="#r" x="2215.8" y="354.2"/><use href="#r" x="2234.5" y="354.2"/><use href="#r" x="2215.8" y="344.1"/><use href="#r" x="2271.9" y="344.1"/><use href="#r" x="2309.3" y="323.8"/><use href="#r" x="2458.9" y="303.6"/><use href="#r" x="2290.6" y="293.5"/><use href="#r" x="2384.1" y="293.5"/><use href="#r" x="2402.8" y="283.3"/><use href="#r" x="2458.9" y="283.3"/><use href="#r" x="2440.2" y="273.2"/><use href="#r" x="2458.9" y="273.2"/><use href="#r" x="2589.7" y="263.1"/><use href="#r" x="2608.4" y="263.1"/><use href="#r" x="2159.7" y="253"/><use href="#r" x="2514.9" y="253"/><use href="#r" x="2571" y="253"/><use href="#r" x="2627.1" y="242.9"/><use href="#r" x="2683.2" y="242.9"/><use href="#r" x="2627.1" y="232.7"/><use href="#r" x="2645.8" y="232.7"/><use href="#r" x="2571" y="222.6"/><use href="#r" x="2589.7" y="222.6"/><use href="#r" x="2552.3" y="202.4"/><use href="#r" x="2571" y="202.4"/><use href="#r" x="2758" y="202.4"/><use href="#r" x="2552.3" y="192.2"/><use href="#r" x="2571" y="192.2"/><use href="#r" x="2832.8" y="192.2"/><use href="#r" x="2851.5" y="192.2"/><use href="#r" x="2552.3" y="182.1"/><use href="#r" x="2571" y="182.1"/><use href="#r" x="2907.6" y="182.1"/><use href="#r" x="2926.3" y="182.1"/><use href="#r" x="2870.2" y="161.9"/><use href="#r" x="2945" y="141.6"/><use href="#r" x="3019.8" y="121.4"/><use href="#r" x="3057.2" y="101.1"/><path d="M402 1967.1l14.6 25.2h-29.1zM420.7 1967.1l14.6 25.2h-29.1zM439.4 1967.1l14.6 25.2h-29.1zM458.1 1967.1l14.6 25.2h-29.1zM476.8 1967.1l14.6 25.2h-29.1zM514.2 1967.1l14.6 25.2h-29.1zM420.7 1957l14.6 25.2h-29.1zM439.4 1957l14.6 25.2h-29.1zM458.1 1957l14.6 25.2h-29.1zM476.8 1957l14.6 25.2h-29.1zM495.5 1957l14.6 25.2h-29.1zM514.2 1957l14.6 25.2h-29.1zM532.9 1957l14.6 25.2h-29.1zM551.6 1957l14.6 25.2h-29.1zM420.7 1946.8l14.6 25.2h-29.1zM439.4 1946.8l14.6 25.2h-29.1zM458.1 1946.8l14.6 25.2h-29.1zM476.8 1946.8l14.6 25.2h-29.1zM495.5 1946.8l14.6 25.2h-29.1zM514.2 1946.8l14.6 25.2h-29.1zM532.9 1946.8l14.6 25.2h-29.1zM551.6 1946.8l14.6 25.2h-29.1zM551.6 1906.3l14.6 25.2h-29.1zM514.2 1886.1l14.6 25.2h-29.1zM532.9 1886.1l14.6 25.2h-29.1zM551.6 1886.1l14.6 25.2h-29.1zM570.3 1886.1l14.6 25.2h-29.1zM589 1886.1l14.6 25.2h-29.1zM607.7 1886.1l14.6 25.2h-29.1zM626.4 1886.1l14.6 25.2h-29.1zM645.1 1886.1l14.6 25.2h-29.1zM663.8 1886.1l14.6 25.2h-29.1zM701.2 1886.1l14.6 25.2h-29.1zM570.3 1876l14.6 25.2h-29.1zM589 1876l14.6 25.2h-29.1zM607.7 1876l14.6 25.2h-29.1zM626.4 1876l14.6 25.2h-29.1zM645.1 1876l14.6 25.2h-29.1zM663.8 1876l14.6 25.2h-29.1zM682.5 1876l14.6 25.2h-29.1zM701.2 1876l14.6 25.2h-29.1zM719.9 1876l14.6 25.2h-29.1zM738.6 1876l14.6 25.2h-29.1zM757.3 1876l14.6 25.2h-29.1zM776 1876l14.6 25.2h-29.1zM794.7 1876l14.6 25.2h-29.1zM551.6 1865.8l14.6 25.2h-29.1zM570.3 1865.8l14.6 25.2h-29.1zM589 1865.8l14.6 25.2h-29.1zM607.7 1865.8l14.6 25.2h-29.1zM626.4 1865.8l14.6 25.2h-29.1zM645.1 1865.8l14.6 25.2h-29.1zM663.8 1865.8l14.6 25.2h-29.1zM682.5 1865.8l14.6 25.2h-29.1zM701.2 1865.8l14.6 25.2h-29.1zM719.9 1865.8l14.6 25.2h-29.1zM738.6 1865.8l14.6 25.2h-29.1zM757.3 1865.8l14.6 25.2h-29.1zM776 1865.8l14.6 25.2h-29.1zM645.1 1855.7l14.6 25.2h-29.1zM663.8 1855.7l14.6 25.2h-29.1zM663.8 1845.6l14.6 25.2h-29.1zM682.5 1845.6l14.6 25.2h-29.1zM701.2 1845.6l14.6 25.2h-29.1zM738.6 1825.3l14.6 25.2h-29.1zM719.9 1815.2l14.6 25.2h-29.1zM738.6 1815.2l14.6 25.2h-29.1zM757.3 1815.2l14.6 25.2h-29.1zM776 1815.2l14.6 25.2h-29.1zM794.7 1815.2l14.6 25.2h-29.1zM813.4 1815.2l14.6 25.2h-29.1zM832.1 1815.2l14.6 25.2h-29.1zM850.8 1815.2l14.6 25.2h-29.1zM869.5 1815.2l14.6 25.2h-29.1zM888.2 1815.2l14.6 25.2h-29.1zM906.9 1815.2l14.6 25.2h-29.1zM738.6 1805.1l14.6 25.2h-29.1zM776 1805.1l14.6 25.2h-29.1zM813.4 1784.8l14.6 25.2h-29.1zM850.8 1784.8l14.6 25.2h-29.1zM794.7 1774.7l14.6 25.2h-29.1zM813.4 1774.7l14.6 25.2h-29.1zM832.1 1774.7l14.6 25.2h-29.1zM850.8 1774.7l14.6 25.2h-29.1zM869.5 1774.7l14.6 25.2h-29.1zM888.2 1774.7l14.6 25.2h-29.1zM906.9 1774.7l14.6 25.2h-29.1zM925.6 1774.7l14.6 25.2h-29.1zM944.3 1774.7l14.6 25.2h-29.1zM963 1774.7l14.6 25.2h-29.1zM981.7 1774.7l14.6 25.2h-29.1zM1000.4 1774.7l14.6 25.2h-29.1zM1019.1 1774.7l14.6 25.2h-29.1zM1037.7 1774.7l14.6 25.2h-29.1zM1056.4 1774.7l14.6 25.2h-29.1zM1075.1 1774.7l14.6 25.2h-29.1zM1093.8 1774.7l14.6 25.2h-29.1zM850.8 1764.6l14.6 25.2h-29.1zM869.5 1764.6l14.6 25.2h-29.1zM888.2 1764.6l14.6 25.2h-29.1zM906.9 1764.6l14.6 25.2h-29.1zM925.6 1764.6l14.6 25.2h-29.1zM944.3 1764.6l14.6 25.2h-29.1zM963 1764.6l14.6 25.2h-29.1zM981.7 1764.6l14.6 25.2h-29.1zM1000.4 1764.6l14.6 25.2h-29.1zM1019.1 1764.6l14.6 25.2h-29.1zM1037.7 1764.6l14.6 25.2h-29.1zM1056.4 1764.6l14.6 25.2h-29.1zM1075.1 1764.6l14.6 25.2h-29.1zM1093.8 1764.6l14.6 25.2h-29.1zM1112.5 1764.6l14.6 25.2h-29.1zM850.8 1754.5l14.6 25.2h-29.1zM869.5 1754.5l14.6 25.2h-29.1zM888.2 1754.5l14.6 25.2h-29.1zM906.9 1754.5l14.6 25.2h-29.1zM925.6 1754.5l14.6 25.2h-29.1zM944.3 1754.5l14.6 25.2h-29.1zM963 1754.5l14.6 25.2h-29.1zM981.7 1754.5l14.6 25.2h-29.1zM1000.4 1754.5l14.6 25.2h-29.1zM1019.1 1754.5l14.6 25.2h-29.1zM1037.7 1754.5l14.6 25.2h-29.1zM1056.4 1754.5l14.6 25.2h-29.1zM1075.1 1754.5l14.6 25.2h-29.1zM1093.8 1754.5l14.6 25.2h-29.1zM1112.5 1754.5l14.6 25.2h-29.1zM1131.2 1754.5l14.6 25.2h-29.1zM963 1744.4l14.6 25.2h-29.1zM1000.4 1744.4l14.6 25.2h-29.1zM1000.4 1724.1l14.6 25.2h-29.1zM1037.7 1724.1l14.6 25.2h-29.1zM1075.1 1724.1l14.6 25.2h-29.1zM925.6 1703.9l14.6 25.2h-29.1zM963 1703.9l14.6 25.2h-29.1zM981.7 1703.9l14.6 25.2h-29.1zM1000.4 1703.9l14.6 25.2h-29.1zM1019.1 1703.9l14.6 25.2h-29.1zM1037.7 1703.9l14.6 25.2h-29.1zM1056.4 1703.9l14.6 25.2h-29.1zM1075.1 1703.9l14.6 25.2h-29.1zM1093.8 1703.9l14.6 25.2h-29.1zM1112.5 1703.9l14.6 25.2h-29.1zM1131.2 1703.9l14.6 25.2h-29.1zM1149.9 1703.9l14.6 25.2h-29.1zM1168.6 1703.9l14.6 25.2h-29.1zM1187.3 1703.9l14.6 25.2h-29.1zM1206 1703.9l14.6 25.2h-29.1zM1224.7 1703.9l14.6 25.2h-29.1zM1243.4 1703.9l14.6 25.2h-29.1zM1262.1 1703.9l14.6 25.2h-29.1zM1280.8 1703.9l14.6 25.2h-29.1zM1299.5 1703.9l14.6 25.2h-29.1zM944.3 1693.7l14.6 25.2h-29.1zM963 1693.7l14.6 25.2h-29.1zM981.7 1693.7l14.6 25.2h-29.1zM1000.4 1693.7l14.6 25.2h-29.1zM1019.1 1693.7l14.6 25.2h-29.1zM1037.7 1693.7l14.6 25.2h-29.1zM1056.4 1693.7l14.6 25.2h-29.1zM1075.1 1693.7l14.6 25.2h-29.1zM1093.8 1693.7l14.6 25.2h-29.1zM1112.5 1693.7l14.6 25.2h-29.1zM1131.2 1693.7l14.6 25.2h-29.1zM1149.9 1693.7l14.6 25.2h-29.1zM1168.6 1693.7l14.6 25.2h-29.1zM1187.3 1693.7l14.6 25.2h-29.1zM1206 1693.7l14.6 25.2h-29.1zM1224.7 1693.7l14.6 25.2h-29.1zM1243.4 1693.7l14.6 25.2h-29.1zM1262.1 1693.7l14.6 25.2h-29.1zM1280.8 1693.7l14.6 25.2h-29.1zM1299.5 1693.7l14.6 25.2h-29.1zM1318.2 1693.7l14.6 25.2h-29.1zM981.7 1683.6l14.6 25.2h-29.1zM1000.4 1683.6l14.6 25.2h-29.1zM1019.1 1683.6l14.6 25.2h-29.1zM1037.7 1683.6l14.6 25.2h-29.1zM1056.4 1683.6l14.6 25.2h-29.1zM1075.1 1683.6l14.6 25.2h-29.1zM1093.8 1683.6l14.6 25.2h-29.1zM1112.5 1683.6l14.6 25.2h-29.1zM1131.2 1683.6l14.6 25.2h-29.1zM1149.9 1683.6l14.6 25.2h-29.1zM1168.6 1683.6l14.6 25.2h-29.1zM1187.3 1683.6l14.6 25.2h-29.1zM1206 1683.6l14.6 25.2h-29.1zM1224.7 1683.6l14.6 25.2h-29.1zM1243.4 1683.6l14.6 25.2h-29.1zM1262.1 1683.6l14.6 25.2h-29.1zM1280.8 1683.6l14.6 25.2h-29.1zM1299.5 1683.6l14.6 25.2h-29.1zM1318.2 1683.6l14.6 25.2h-29.1zM1336.9 1683.6l14.6 25.2h-29.1zM1131.2 1673.5l14.6 25.2h-29.1zM1168.6 1673.5l14.6 25.2h-29.1zM1206 1673.5l14.6 25.2h-29.1zM1243.4 1673.5l14.6 25.2h-29.1zM1280.8 1673.5l14.6 25.2h-29.1zM1318.2 1673.5l14.6 25.2h-29.1zM1336.9 1673.5l14.6 25.2h-29.1zM1355.6 1673.5l14.6 25.2h-29.1zM1131.2 1663.4l14.6 25.2h-29.1zM1149.9 1663.4l14.6 25.2h-29.1zM1187.3 1663.4l14.6 25.2h-29.1zM1224.7 1663.4l14.6 25.2h-29.1zM1262.1 1663.4l14.6 25.2h-29.1zM1299.5 1663.4l14.6 25.2h-29.1zM1318.2 1663.4l14.6 25.2h-29.1zM1336.9 1663.4l14.6 25.2h-29.1zM1318.2 1653.2l14.6 25.2h-29.1zM1336.9 1653.2l14.6 25.2h-29.1zM1149.9 1643.1l14.6 25.2h-29.1zM1187.3 1643.1l14.6 25.2h-29.1zM1224.7 1643.1l14.6 25.2h-29.1zM1262.1 1643.1l14.6 25.2h-29.1zM1299.5 1643.1l14.6 25.2h-29.1zM1336.9 1643.1l14.6 25.2h-29.1zM1374.3 1643.1l14.6 25.2h-29.1zM1411.7 1643.1l14.6 25.2h-29.1zM1224.7 1622.9l14.6 25.2h-29.1zM1262.1 1622.9l14.6 25.2h-29.1zM1299.5 1622.9l14.6 25.2h-29.1zM1299.5 1602.6l14.6 25.2h-29.1zM1336.9 1602.6l14.6 25.2h-29.1zM1374.3 1602.6l14.6 25.2h-29.1zM1411.7 1602.6l14.6 25.2h-29.1zM1449.1 1602.6l14.6 25.2h-29.1zM1486.5 1602.6l14.6 25.2h-29.1zM1523.9 1602.6l14.6 25.2h-29.1zM1187.3 1592.5l14.6 25.2h-29.1zM1224.7 1592.5l14.6 25.2h-29.1zM1262.1 1592.5l14.6 25.2h-29.1zM1299.5 1592.5l14.6 25.2h-29.1zM1336.9 1592.5l14.6 25.2h-29.1zM1224.7 1582.4l14.6 25.2h-29.1zM1243.4 1582.4l14.6 25.2h-29.1zM1262.1 1582.4l14.6 25.2h-29.1zM1280.8 1582.4l14.6 25.2h-29.1zM1299.5 1582.4l14.6 25.2h-29.1zM1318.2 1582.4l14.6 25.2h-29.1zM1336.9 1582.4l14.6 25.2h-29.1zM1355.6 1582.4l14.6 25.2h-29.1zM1374.3 1582.4l14.6 25.2h-29.1zM1393 1582.4l14.6 25.2h-29.1zM1411.7 1582.4l14.6 25.2h-29.1zM1430.4 1582.4l14.6 25.2h-29.1zM1449.1 1582.4l14.6 25.2h-29.1zM1467.8 1582.4l14.6 25.2h-29.1zM1486.5 1582.4l14.6 25.2h-29.1zM1505.2 1582.4l14.6 25.2h-29.1zM1523.9 1582.4l14.6 25.2h-29.1zM1542.6 1582.4l14.6 25.2h-29.1zM1561.3 1582.4l14.6 25.2h-29.1zM1580 1582.4l14.6 25.2h-29.1zM1598.7 1582.4l14.6 25.2h-29.1zM1617.4 1582.4l14.6 25.2h-29.1zM1636.1 1582.4l14.6 25.2h-29.1zM1654.8 1582.4l14.6 25.2h-29.1zM1673.5 1582.4l14.6 25.2h-29.1zM1692.2 1582.4l14.6 25.2h-29.1zM1710.9 1582.4l14.6 25.2h-29.1zM1280.8 1572.2l14.6 25.2h-29.1zM1299.5 1572.2l14.6 25.2h-29.1zM1318.2 1572.2l14.6 25.2h-29.1zM1336.9 1572.2l14.6 25.2h-29.1zM1355.6 1572.2l14.6 25.2h-29.1zM1374.3 1572.2l14.6 25.2h-29.1zM1393 1572.2l14.6 25.2h-29.1zM1411.7 1572.2l14.6 25.2h-29.1zM1430.4 1572.2l14.6 25.2h-29.1zM1449.1 1572.2l14.6 25.2h-29.1zM1467.8 1572.2l14.6 25.2h-29.1zM1486.5 1572.2l14.6 25.2h-29.1zM1505.2 1572.2l14.6 25.2h-29.1zM1523.9 1572.2l14.6 25.2h-29.1zM1542.6 1572.2l14.6 25.2h-29.1zM1561.3 1572.2l14.6 25.2h-29.1zM1580 1572.2l14.6 25.2h-29.1zM1598.7 1572.2l14.6 25.2h-29.1zM1617.4 1572.2l14.6 25.2h-29.1zM1636.1 1572.2l14.6 25.2h-29.1zM1654.8 1572.2l14.6 25.2h-29.1zM1673.5 1572.2l14.6 25.2h-29.1zM1692.2 1572.2l14.6 25.2h-29.1zM1710.9 1572.2l14.6 25.2h-29.1zM1336.9 1562.1l14.6 25.2h-29.1zM1355.6 1562.1l14.6 25.2h-29.1zM1374.3 1562.1l14.6 25.2h-29.1zM1393 1562.1l14.6 25.2h-29.1zM1411.7 1562.1l14.6 25.2h-29.1zM1430.4 1562.1l14.6 25.2h-29.1zM1449.1 1562.1l14.6 25.2h-29.1zM1467.8 1562.1l14.6 25.2h-29.1zM1486.5 1562.1l14.6 25.2h-29.1zM1505.2 1562.1l14.6 25.2h-29.1zM1523.9 1562.1l14.6 25.2h-29.1zM1542.6 1562.1l14.6 25.2h-29.1zM1561.3 1562.1l14.6 25.2h-29.1zM1580 1562.1l14.6 25.2h-29.1zM1598.7 1562.1l14.6 25.2h-29.1zM1617.4 1562.1l14.6 25.2h-29.1zM1636.1 1562.1l14.6 25.2h-29.1zM1654.8 1562.1l14.6 25.2h-29.1zM1673.5 1562.1l14.6 25.2h-29.1zM1692.2 1562.1l14.6 25.2h-29.1zM1710.9 1562.1l14.6 25.2h-29.1zM1748.3 1562.1l14.6 25.2h-29.1zM1449.1 1541.9l14.6 25.2h-29.1zM1486.5 1541.9l14.6 25.2h-29.1zM1523.9 1541.9l14.6 25.2h-29.1zM1561.3 1541.9l14.6 25.2h-29.1zM1598.7 1541.9l14.6 25.2h-29.1zM1636.1 1541.9l14.6 25.2h-29.1zM1673.5 1541.9l14.6 25.2h-29.1zM1710.9 1541.9l14.6 25.2h-29.1zM1748.3 1541.9l14.6 25.2h-29.1zM1411.7 1521.6l14.6 25.2h-29.1zM1449.1 1521.6l14.6 25.2h-29.1zM1486.5 1521.6l14.6 25.2h-29.1zM1523.9 1521.6l14.6 25.2h-29.1zM1561.3 1521.6l14.6 25.2h-29.1zM1598.7 1521.6l14.6 25.2h-29.1zM1617.4 1521.6l14.6 25.2h-29.1zM1636.1 1521.6l14.6 25.2h-29.1zM1654.8 1521.6l14.6 25.2h-29.1zM1673.5 1521.6l14.6 25.2h-29.1zM1710.9 1521.6l14.6 25.2h-29.1zM1748.3 1521.6l14.6 25.2h-29.1zM1785.7 1521.6l14.6 25.2h-29.1zM1804.4 1521.6l14.6 25.2h-29.1zM1823.1 1521.6l14.6 25.2h-29.1zM1841.8 1521.6l14.6 25.2h-29.1zM1860.5 1521.6l14.6 25.2h-29.1zM1897.9 1521.6l14.6 25.2h-29.1zM1430.4 1511.5l14.6 25.2h-29.1zM1449.1 1511.5l14.6 25.2h-29.1zM1467.8 1511.5l14.6 25.2h-29.1zM1486.5 1511.5l14.6 25.2h-29.1zM1505.2 1511.5l14.6 25.2h-29.1zM1523.9 1511.5l14.6 25.2h-29.1zM1542.6 1511.5l14.6 25.2h-29.1zM1561.3 1511.5l14.6 25.2h-29.1zM1580 1511.5l14.6 25.2h-29.1zM1598.7 1511.5l14.6 25.2h-29.1zM1617.4 1511.5l14.6 25.2h-29.1zM1636.1 1511.5l14.6 25.2h-29.1zM1654.8 1511.5l14.6 25.2h-29.1zM1673.5 1511.5l14.6 25.2h-29.1zM1692.2 1511.5l14.6 25.2h-29.1zM1710.9 1511.5l14.6 25.2h-29.1zM1729.6 1511.5l14.6 25.2h-29.1zM1748.3 1511.5l14.6 25.2h-29.1zM1767 1511.5l14.6 25.2h-29.1zM1785.7 1511.5l14.6 25.2h-29.1zM1804.4 1511.5l14.6 25.2h-29.1zM1823.1 1511.5l14.6 25.2h-29.1zM1841.8 1511.5l14.6 25.2h-29.1zM1860.5 1511.5l14.6 25.2h-29.1zM1879.2 1511.5l14.6 25.2h-29.1zM1449.1 1501.4l14.6 25.2h-29.1zM1467.8 1501.4l14.6 25.2h-29.1zM1486.5 1501.4l14.6 25.2h-29.1zM1505.2 1501.4l14.6 25.2h-29.1zM1523.9 1501.4l14.6 25.2h-29.1zM1542.6 1501.4l14.6 25.2h-29.1zM1561.3 1501.4l14.6 25.2h-29.1zM1580 1501.4l14.6 25.2h-29.1zM1598.7 1501.4l14.6 25.2h-29.1zM1617.4 1501.4l14.6 25.2h-29.1zM1636.1 1501.4l14.6 25.2h-29.1zM1654.8 1501.4l14.6 25.2h-29.1zM1673.5 1501.4l14.6 25.2h-29.1zM1692.2 1501.4l14.6 25.2h-29.1zM1710.9 1501.4l14.6 25.2h-29.1zM1729.6 1501.4l14.6 25.2h-29.1zM1748.3 1501.4l14.6 25.2h-29.1zM1767 1501.4l14.6 25.2h-29.1zM1785.7 1501.4l14.6 25.2h-29.1zM1804.4 1501.4l14.6 25.2h-29.1zM1823.1 1501.4l14.6 25.2h-29.1zM1841.8 1501.4l14.6 25.2h-29.1zM1860.5 1501.4l14.6 25.2h-29.1zM1897.9 1501.4l14.6 25.2h-29.1zM1710.9 1491.3l14.6 25.2h-29.1zM1710.9 1481.1l14.6 25.2h-29.1zM1748.3 1481.1l14.6 25.2h-29.1zM1785.7 1481.1l14.6 25.2h-29.1zM1823.1 1481.1l14.6 25.2h-29.1zM1860.5 1481.1l14.6 25.2h-29.1zM1598.7 1460.9l14.6 25.2h-29.1zM1636.1 1460.9l14.6 25.2h-29.1zM1654.8 1460.9l14.6 25.2h-29.1zM1673.5 1460.9l14.6 25.2h-29.1zM1692.2 1460.9l14.6 25.2h-29.1zM1710.9 1460.9l14.6 25.2h-29.1zM1729.6 1460.9l14.6 25.2h-29.1zM1748.3 1460.9l14.6 25.2h-29.1zM1767 1460.9l14.6 25.2h-29.1zM1785.7 1460.9l14.6 25.2h-29.1zM1823.1 1460.9l14.6 25.2h-29.1zM1860.5 1460.9l14.6 25.2h-29.1zM1673.5 1440.6l14.6 25.2h-29.1zM1692.2 1440.6l14.6 25.2h-29.1zM1710.9 1440.6l14.6 25.2h-29.1zM1729.6 1440.6l14.6 25.2h-29.1zM1748.3 1440.6l14.6 25.2h-29.1zM1767 1440.6l14.6 25.2h-29.1zM1785.7 1440.6l14.6 25.2h-29.1zM1804.4 1440.6l14.6 25.2h-29.1zM1823.1 1440.6l14.6 25.2h-29.1zM1841.8 1440.6l14.6 25.2h-29.1zM1860.5 1440.6l14.6 25.2h-29.1zM1879.2 1440.6l14.6 25.2h-29.1zM1897.9 1440.6l14.6 25.2h-29.1zM1636.1 1430.5l14.6 25.2h-29.1zM1654.8 1430.5l14.6 25.2h-29.1zM1673.5 1430.5l14.6 25.2h-29.1zM1692.2 1430.5l14.6 25.2h-29.1zM1710.9 1430.5l14.6 25.2h-29.1zM1729.6 1430.5l14.6 25.2h-29.1zM1748.3 1430.5l14.6 25.2h-29.1zM1767 1430.5l14.6 25.2h-29.1zM1785.7 1430.5l14.6 25.2h-29.1zM1804.4 1430.5l14.6 25.2h-29.1zM1823.1 1430.5l14.6 25.2h-29.1zM1841.8 1430.5l14.6 25.2h-29.1zM1860.5 1430.5l14.6 25.2h-29.1zM1879.2 1430.5l14.6 25.2h-29.1zM1897.9 1430.5l14.6 25.2h-29.1zM1916.6 1430.5l14.6 25.2h-29.1zM1935.3 1430.5l14.6 25.2h-29.1zM1954 1430.5l14.6 25.2h-29.1zM1972.7 1430.5l14.6 25.2h-29.1zM1767 1420.4l14.6 25.2h-29.1zM1785.7 1420.4l14.6 25.2h-29.1zM1804.4 1420.4l14.6 25.2h-29.1zM1823.1 1420.4l14.6 25.2h-29.1zM1841.8 1420.4l14.6 25.2h-29.1zM1860.5 1420.4l14.6 25.2h-29.1zM1897.9 1420.4l14.6 25.2h-29.1zM1935.3 1420.4l14.6 25.2h-29.1zM1972.7 1420.4l14.6 25.2h-29.1zM1785.7 1410.3l14.6 25.2h-29.1zM1804.4 1410.3l14.6 25.2h-29.1zM1823.1 1410.3l14.6 25.2h-29.1zM1841.8 1410.3l14.6 25.2h-29.1zM1860.5 1410.3l14.6 25.2h-29.1zM1748.3 1400.1l14.6 25.2h-29.1zM1785.7 1400.1l14.6 25.2h-29.1zM1804.4 1400.1l14.6 25.2h-29.1zM1823.1 1400.1l14.6 25.2h-29.1zM1841.8 1400.1l14.6 25.2h-29.1zM1860.5 1400.1l14.6 25.2h-29.1zM1879.2 1400.1l14.6 25.2h-29.1zM1897.9 1400.1l14.6 25.2h-29.1zM1916.6 1400.1l14.6 25.2h-29.1zM1935.3 1400.1l14.6 25.2h-29.1zM1954 1400.1l14.6 25.2h-29.1zM1972.7 1400.1l14.6 25.2h-29.1zM1991.4 1400.1l14.6 25.2h-29.1zM2010.1 1400.1l14.6 25.2h-29.1zM1823.1 1390l14.6 25.2h-29.1zM1841.8 1390l14.6 25.2h-29.1zM1860.5 1390l14.6 25.2h-29.1zM1879.2 1390l14.6 25.2h-29.1zM1897.9 1390l14.6 25.2h-29.1zM1916.6 1390l14.6 25.2h-29.1zM1935.3 1390l14.6 25.2h-29.1zM1954 1390l14.6 25.2h-29.1zM1972.7 1390l14.6 25.2h-29.1zM2010.1 1390l14.6 25.2h-29.1zM1785.7 1379.9l14.6 25.2h-29.1zM1823.1 1379.9l14.6 25.2h-29.1zM1841.8 1379.9l14.6 25.2h-29.1zM1860.5 1379.9l14.6 25.2h-29.1zM1879.2 1379.9l14.6 25.2h-29.1zM1897.9 1379.9l14.6 25.2h-29.1zM1916.6 1379.9l14.6 25.2h-29.1zM1935.3 1379.9l14.6 25.2h-29.1zM1954 1379.9l14.6 25.2h-29.1zM1972.7 1379.9l14.6 25.2h-29.1zM1991.4 1379.9l14.6 25.2h-29.1zM2010.1 1379.9l14.6 25.2h-29.1zM2047.5 1379.9l14.6 25.2h-29.1zM2084.9 1379.9l14.6 25.2h-29.1zM1823.1 1369.8l14.6 25.2h-29.1zM1841.8 1369.8l14.6 25.2h-29.1zM1879.2 1369.8l14.6 25.2h-29.1zM1897.9 1369.8l14.6 25.2h-29.1zM1916.6 1369.8l14.6 25.2h-29.1zM1935.3 1369.8l14.6 25.2h-29.1zM1954 1369.8l14.6 25.2h-29.1zM1972.7 1369.8l14.6 25.2h-29.1zM1991.4 1369.8l14.6 25.2h-29.1zM2010.1 1369.8l14.6 25.2h-29.1zM2028.8 1369.8l14.6 25.2h-29.1zM2047.5 1369.8l14.6 25.2h-29.1zM2066.2 1369.8l14.6 25.2h-29.1zM2084.9 1369.8l14.6 25.2h-29.1zM2103.6 1369.8l14.6 25.2h-29.1zM1785.7 1359.6l14.6 25.2h-29.1zM1823.1 1359.6l14.6 25.2h-29.1zM1841.8 1359.6l14.6 25.2h-29.1zM1860.5 1359.6l14.6 25.2h-29.1zM1879.2 1359.6l14.6 25.2h-29.1zM1897.9 1359.6l14.6 25.2h-29.1zM1916.6 1359.6l14.6 25.2h-29.1zM1935.3 1359.6l14.6 25.2h-29.1zM1954 1359.6l14.6 25.2h-29.1zM1972.7 1359.6l14.6 25.2h-29.1zM1991.4 1359.6l14.6 25.2h-29.1zM2010.1 1359.6l14.6 25.2h-29.1zM2028.8 1359.6l14.6 25.2h-29.1zM2047.5 1359.6l14.6 25.2h-29.1zM2066.2 1359.6l14.6 25.2h-29.1zM2084.9 1359.6l14.6 25.2h-29.1zM2103.6 1359.6l14.6 25.2h-29.1zM2122.3 1359.6l14.6 25.2h-29.1zM2141 1359.6l14.6 25.2h-29.1zM2159.7 1359.6l14.6 25.2h-29.1zM2178.4 1359.6l14.6 25.2h-29.1zM1935.3 1349.5l14.6 25.2h-29.1zM1954 1349.5l14.6 25.2h-29.1zM1972.7 1349.5l14.6 25.2h-29.1zM1991.4 1349.5l14.6 25.2h-29.1zM2010.1 1349.5l14.6 25.2h-29.1zM2028.8 1349.5l14.6 25.2h-29.1zM2047.5 1349.5l14.6 25.2h-29.1zM2066.2 1349.5l14.6 25.2h-29.1zM2084.9 1349.5l14.6 25.2h-29.1zM2103.6 1349.5l14.6 25.2h-29.1zM2122.3 1349.5l14.6 25.2h-29.1zM2141 1349.5l14.6 25.2h-29.1zM2159.7 1349.5l14.6 25.2h-29.1zM2178.4 1349.5l14.6 25.2h-29.1zM2197.1 1349.5l14.6 25.2h-29.1zM2084.9 1339.4l14.6 25.2h-29.1zM2103.6 1339.4l14.6 25.2h-29.1zM2122.3 1339.4l14.6 25.2h-29.1zM2141 1339.4l14.6 25.2h-29.1zM2159.7 1339.4l14.6 25.2h-29.1zM2178.4 1339.4l14.6 25.2h-29.1zM2197.1 1339.4l14.6 25.2h-29.1zM2234.5 1339.4l14.6 25.2h-29.1zM2234.5 1319.1l14.6 25.2h-29.1zM2271.9 1319.1l14.6 25.2h-29.1zM2271.9 1298.9l14.6 25.2h-29.1zM2309.3 1298.9l14.6 25.2h-29.1zM2346.7 1298.9l14.6 25.2h-29.1zM2384.1 1298.9l14.6 25.2h-29.1zM2421.5 1298.9l14.6 25.2h-29.1zM2215.8 1288.8l14.6 25.2h-29.1zM2234.5 1288.8l14.6 25.2h-29.1zM2253.2 1288.8l14.6 25.2h-29.1zM2271.9 1288.8l14.6 25.2h-29.1zM2309.3 1288.8l14.6 25.2h-29.1zM2346.7 1288.8l14.6 25.2h-29.1zM2122.3 1278.6l14.6 25.2h-29.1zM2141 1278.6l14.6 25.2h-29.1zM2159.7 1278.6l14.6 25.2h-29.1zM2178.4 1278.6l14.6 25.2h-29.1zM2197.1 1278.6l14.6 25.2h-29.1zM2215.8 1278.6l14.6 25.2h-29.1zM2234.5 1278.6l14.6 25.2h-29.1zM2253.2 1278.6l14.6 25.2h-29.1zM2271.9 1278.6l14.6 25.2h-29.1zM2290.6 1278.6l14.6 25.2h-29.1zM2309.3 1278.6l14.6 25.2h-29.1zM2328 1278.6l14.6 25.2h-29.1zM2346.7 1278.6l14.6 25.2h-29.1zM2365.4 1278.6l14.6 25.2h-29.1zM2384.1 1278.6l14.6 25.2h-29.1zM2421.5 1278.6l14.6 25.2h-29.1zM2197.1 1268.5l14.6 25.2h-29.1zM2215.8 1268.5l14.6 25.2h-29.1zM2234.5 1268.5l14.6 25.2h-29.1zM2253.2 1268.5l14.6 25.2h-29.1zM2271.9 1268.5l14.6 25.2h-29.1zM2290.6 1268.5l14.6 25.2h-29.1zM2309.3 1268.5l14.6 25.2h-29.1zM2328 1268.5l14.6 25.2h-29.1zM2346.7 1268.5l14.6 25.2h-29.1zM2365.4 1268.5l14.6 25.2h-29.1zM2384.1 1268.5l14.6 25.2h-29.1zM2402.8 1268.5l14.6 25.2h-29.1zM2421.5 1268.5l14.6 25.2h-29.1zM2066.2 1258.4l14.6 25.2h-29.1zM2084.9 1258.4l14.6 25.2h-29.1zM2103.6 1258.4l14.6 25.2h-29.1zM2122.3 1258.4l14.6 25.2h-29.1zM2141 1258.4l14.6 25.2h-29.1zM2159.7 1258.4l14.6 25.2h-29.1zM2178.4 1258.4l14.6 25.2h-29.1zM2197.1 1258.4l14.6 25.2h-29.1zM2215.8 1258.4l14.6 25.2h-29.1zM2234.5 1258.4l14.6 25.2h-29.1zM2253.2 1258.4l14.6 25.2h-29.1zM2271.9 1258.4l14.6 25.2h-29.1zM2290.6 1258.4l14.6 25.2h-29.1zM2309.3 1258.4l14.6 25.2h-29.1zM2328 1258.4l14.6 25.2h-29.1zM2346.7 1258.4l14.6 25.2h-29.1zM2365.4 1258.4l14.6 25.2h-29.1zM2384.1 1258.4l14.6 25.2h-29.1zM2402.8 1258.4l14.6 25.2h-29.1zM2421.5 1258.4l14.6 25.2h-29.1zM2440.2 1258.4l14.6 25.2h-29.1zM2458.9 1258.4l14.6 25.2h-29.1zM2477.6 1258.4l14.6 25.2h-29.1zM2496.2 1258.4l14.6 25.2h-29.1zM2514.9 1258.4l14.6 25.2h-29.1zM2533.6 1258.4l14.6 25.2h-29.1zM2552.3 1258.4l14.6 25.2h-29.1zM2571 1258.4l14.6 25.2h-29.1zM2084.9 1248.3l14.6 25.2h-29.1zM2290.6 1248.3l14.6 25.2h-29.1zM2309.3 1248.3l14.6 25.2h-29.1zM2328 1248.3l14.6 25.2h-29.1zM2346.7 1248.3l14.6 25.2h-29.1zM2365.4 1248.3l14.6 25.2h-29.1zM2384.1 1248.3l14.6 25.2h-29.1zM2402.8 1248.3l14.6 25.2h-29.1zM2421.5 1248.3l14.6 25.2h-29.1zM2440.2 1248.3l14.6 25.2h-29.1zM2458.9 1248.3l14.6 25.2h-29.1zM2477.6 1248.3l14.6 25.2h-29.1zM2496.2 1248.3l14.6 25.2h-29.1zM2122.3 1238.2l14.6 25.2h-29.1zM2141 1238.2l14.6 25.2h-29.1zM2159.7 1238.2l14.6 25.2h-29.1zM2178.4 1238.2l14.6 25.2h-29.1zM2197.1 1238.2l14.6 25.2h-29.1zM2215.8 1238.2l14.6 25.2h-29.1zM2234.5 1238.2l14.6 25.2h-29.1zM2253.2 1238.2l14.6 25.2h-29.1zM2271.9 1238.2l14.6 25.2h-29.1zM2290.6 1238.2l14.6 25.2h-29.1zM2309.3 1238.2l14.6 25.2h-29.1zM2328 1238.2l14.6 25.2h-29.1zM2346.7 1238.2l14.6 25.2h-29.1zM2365.4 1238.2l14.6 25.2h-29.1zM2384.1 1238.2l14.6 25.2h-29.1zM2402.8 1238.2l14.6 25.2h-29.1zM2421.5 1238.2l14.6 25.2h-29.1zM2440.2 1238.2l14.6 25.2h-29.1zM2458.9 1238.2l14.6 25.2h-29.1zM2477.6 1238.2l14.6 25.2h-29.1zM2496.2 1238.2l14.6 25.2h-29.1zM2514.9 1238.2l14.6 25.2h-29.1zM2533.6 1238.2l14.6 25.2h-29.1zM2552.3 1238.2l14.6 25.2h-29.1zM2571 1238.2l14.6 25.2h-29.1zM2589.7 1238.2l14.6 25.2h-29.1zM2608.4 1238.2l14.6 25.2h-29.1zM2645.8 1238.2l14.6 25.2h-29.1zM2477.6 1228l14.6 25.2h-29.1zM2496.2 1228l14.6 25.2h-29.1zM2514.9 1228l14.6 25.2h-29.1zM2533.6 1228l14.6 25.2h-29.1zM2552.3 1228l14.6 25.2h-29.1zM2571 1228l14.6 25.2h-29.1zM2589.7 1228l14.6 25.2h-29.1zM2608.4 1228l14.6 25.2h-29.1zM2271.9 1217.9l14.6 25.2h-29.1zM2290.6 1217.9l14.6 25.2h-29.1zM2309.3 1217.9l14.6 25.2h-29.1zM2328 1217.9l14.6 25.2h-29.1zM2346.7 1217.9l14.6 25.2h-29.1zM2365.4 1217.9l14.6 25.2h-29.1zM2384.1 1217.9l14.6 25.2h-29.1zM2402.8 1217.9l14.6 25.2h-29.1zM2421.5 1217.9l14.6 25.2h-29.1zM2440.2 1217.9l14.6 25.2h-29.1zM2458.9 1217.9l14.6 25.2h-29.1zM2477.6 1217.9l14.6 25.2h-29.1zM2496.2 1217.9l14.6 25.2h-29.1zM2514.9 1217.9l14.6 25.2h-29.1zM2533.6 1217.9l14.6 25.2h-29.1zM2552.3 1217.9l14.6 25.2h-29.1zM2421.5 1197.7l14.6 25.2h-29.1zM2458.9 1197.7l14.6 25.2h-29.1zM2477.6 1197.7l14.6 25.2h-29.1zM2496.2 1197.7l14.6 25.2h-29.1zM2514.9 1197.7l14.6 25.2h-29.1zM2533.6 1197.7l14.6 25.2h-29.1zM2720.6 1197.7l14.6 25.2h-29.1zM2402.8 1187.5l14.6 25.2h-29.1zM2421.5 1187.5l14.6 25.2h-29.1zM2440.2 1187.5l14.6 25.2h-29.1zM2458.9 1187.5l14.6 25.2h-29.1zM2477.6 1187.5l14.6 25.2h-29.1zM2496.2 1187.5l14.6 25.2h-29.1zM2514.9 1187.5l14.6 25.2h-29.1zM2533.6 1187.5l14.6 25.2h-29.1zM2739.3 1187.5l14.6 25.2h-29.1zM2758 1187.5l14.6 25.2h-29.1zM2776.7 1187.5l14.6 25.2h-29.1zM2795.4 1187.5l14.6 25.2h-29.1zM2814.1 1187.5l14.6 25.2h-29.1zM2496.2 1177.4l14.6 25.2h-29.1zM2514.9 1177.4l14.6 25.2h-29.1zM2533.6 1177.4l14.6 25.2h-29.1zM2720.6 1177.4l14.6 25.2h-29.1zM2739.3 1177.4l14.6 25.2h-29.1zM2758 1177.4l14.6 25.2h-29.1zM2776.7 1177.4l14.6 25.2h-29.1zM2795.4 1177.4l14.6 25.2h-29.1zM2814.1 1177.4l14.6 25.2h-29.1zM2832.8 1177.4l14.6 25.2h-29.1zM2851.5 1177.4l14.6 25.2h-29.1zM2870.2 1177.4l14.6 25.2h-29.1zM2888.9 1177.4l14.6 25.2h-29.1zM2832.8 1157.2l14.6 25.2h-29.1zM2907.6 1136.9l14.6 25.2h-29.1zM2945 1116.7l14.6 25.2h-29.1zM2982.4 1116.7l14.6 25.2h-29.1zM2982.4 1096.4l14.6 25.2h-29.1zM3019.8 1096.4l14.6 25.2h-29.1z" fill="#808080" stroke="#808080" stroke-width="1.7" stroke-linejoin="round"/><use href="#r" x="364.6" y="1984.2"/><use href="#r" x="383.3" y="1984.2"/><use href="#r" x="383.3" y="1974.1"/><use href="#r" x="402" y="1974.1"/><use href="#r" x="383.3" y="1963.9"/><use href="#r" x="402" y="1963.9"/><use href="#r" x="514.2" y="1923.4"/><use href="#r" x="476.8" y="1903.2"/><use href="#r" x="495.5" y="1903.2"/><use href="#r" x="532.9" y="1893.1"/><use href="#r" x="551.6" y="1893.1"/><use href="#r" x="514.2" y="1882.9"/><use href="#r" x="532.9" y="1882.9"/><use href="#r" x="607.7" y="1872.8"/><use href="#r" x="626.4" y="1862.7"/><use href="#r" x="645.1" y="1862.7"/><use href="#r" x="701.2" y="1842.4"/><use href="#r" x="682.5" y="1832.3"/><use href="#r" x="701.2" y="1832.3"/><use href="#r" x="701.2" y="1822.2"/><use href="#r" x="776" y="1801.9"/><use href="#r" x="757.3" y="1791.8"/><use href="#r" x="776" y="1791.8"/><use href="#r" x="813.4" y="1781.7"/><use href="#r" x="832.1" y="1781.7"/><use href="#r" x="813.4" y="1771.6"/><use href="#r" x="832.1" y="1771.6"/><use href="#r" x="925.6" y="1761.5"/><use href="#r" x="963" y="1741.2"/><use href="#r" x="888.2" y="1721"/><use href="#r" x="944.3" y="1721"/><use href="#r" x="906.9" y="1710.8"/><use href="#r" x="925.6" y="1710.8"/><use href="#r" x="944.3" y="1700.7"/><use href="#r" x="963" y="1700.7"/><use href="#r" x="1093.8" y="1690.6"/><use href="#r" x="1224.7" y="1690.6"/><use href="#r" x="1093.8" y="1680.5"/><use href="#r" x="1112.5" y="1680.5"/><use href="#r" x="1280.8" y="1680.5"/><use href="#r" x="1299.5" y="1670.3"/><use href="#r" x="1112.5" y="1660.2"/><use href="#r" x="1187.3" y="1640"/><use href="#r" x="1262.1" y="1619.7"/><use href="#r" x="1149.9" y="1609.6"/><use href="#r" x="1187.3" y="1599.5"/><use href="#r" x="1206" y="1599.5"/><use href="#r" x="1243.4" y="1589.3"/><use href="#r" x="1262.1" y="1589.3"/><use href="#r" x="1299.5" y="1579.2"/><use href="#r" x="1318.2" y="1579.2"/><use href="#r" x="1411.7" y="1559"/><use href="#r" x="1374.3" y="1538.7"/><use href="#r" x="1580" y="1538.7"/><use href="#r" x="1767" y="1538.7"/><use href="#r" x="1393" y="1528.6"/><use href="#r" x="1411.7" y="1528.6"/><use href="#r" x="1411.7" y="1518.5"/><use href="#r" x="1430.4" y="1518.5"/><use href="#r" x="1673.5" y="1508.4"/><use href="#r" x="1673.5" y="1498.2"/><use href="#r" x="1561.3" y="1478"/><use href="#r" x="1617.4" y="1478"/><use href="#r" x="1636.1" y="1457.7"/><use href="#r" x="1654.8" y="1457.7"/><use href="#r" x="1598.7" y="1447.6"/><use href="#r" x="1617.4" y="1447.6"/><use href="#r" x="1748.3" y="1437.5"/><use href="#r" x="1748.3" y="1427.4"/><use href="#r" x="1767" y="1427.4"/><use href="#r" x="1710.9" y="1417.2"/><use href="#r" x="1767" y="1417.2"/><use href="#r" x="1785.7" y="1407.1"/><use href="#r" x="1804.4" y="1407.1"/><use href="#r" x="1748.3" y="1397"/><use href="#r" x="1804.4" y="1386.9"/><use href="#r" x="1860.5" y="1386.9"/><use href="#r" x="1748.3" y="1376.7"/><use href="#r" x="1804.4" y="1376.7"/><use href="#r" x="1897.9" y="1366.6"/><use href="#r" x="1916.6" y="1366.6"/><use href="#r" x="2047.5" y="1356.5"/><use href="#r" x="2066.2" y="1356.5"/><use href="#r" x="2197.1" y="1336.2"/><use href="#r" x="2234.5" y="1316"/><use href="#r" x="2178.4" y="1305.9"/><use href="#r" x="2197.1" y="1305.9"/><use href="#r" x="2084.9" y="1295.7"/><use href="#r" x="2103.6" y="1295.7"/><use href="#r" x="2159.7" y="1285.6"/><use href="#r" x="2178.4" y="1285.6"/><use href="#r" x="2028.8" y="1275.5"/><use href="#r" x="2047.5" y="1275.5"/><use href="#r" x="2047.5" y="1265.4"/><use href="#r" x="2215.8" y="1265.4"/><use href="#r" x="2271.9" y="1265.4"/><use href="#r" x="2084.9" y="1255.3"/><use href="#r" x="2103.6" y="1255.3"/><use href="#r" x="2440.2" y="1245.1"/><use href="#r" x="2458.9" y="1245.1"/><use href="#r" x="2234.5" y="1235"/><use href="#r" x="2253.2" y="1235"/><use href="#r" x="2384.1" y="1214.8"/><use href="#r" x="2440.2" y="1214.8"/><use href="#r" x="2683.2" y="1214.8"/><use href="#r" x="2365.4" y="1204.6"/><use href="#r" x="2384.1" y="1204.6"/><use href="#r" x="2701.9" y="1204.6"/><use href="#r" x="2720.6" y="1204.6"/><use href="#r" x="2458.9" y="1194.5"/><use href="#r" x="2477.6" y="1194.5"/><use href="#r" x="2683.2" y="1194.5"/><use href="#r" x="2701.9" y="1194.5"/><use href="#r" x="2795.4" y="1174.3"/><use href="#r" x="2870.2" y="1154"/><use href="#r" x="2907.6" y="1133.8"/><use href="#r" x="2945" y="1113.5"/><g stroke="#000" stroke-width="8.6" fill="none" stroke-linecap="butt"><rect x="308.5" y="10" width="2898.3" height="2024.8"/><line x1="308.5" y1="1022.4" x2="3206.8" y2="1022.4"/><path d="M402 10v19M402 1003.4v38M402 2034.8v-19M589 10v38.5M589 983.9v77M589 2034.8v-38.5M776 10v19M776 1003.4v38M776 2034.8v-19M963 10v38.5M963 983.9v77M963 2034.8v-38.5M1149.9 10v19M1149.9 1003.4v38M1149.9 2034.8v-19M1336.9 10v38.5M1336.9 983.9v77M1336.9 2034.8v-38.5M1523.9 10v19M1523.9 1003.4v38M1523.9 2034.8v-19M1710.9 10v38.5M1710.9 983.9v77M1710.9 2034.8v-38.5M1897.9 10v19M1897.9 1003.4v38M1897.9 2034.8v-19M2084.9 10v38.5M2084.9 983.9v77M2084.9 2034.8v-38.5M2271.9 10v19M2271.9 1003.4v38M2271.9 2034.8v-19M2458.9 10v38.5M2458.9 983.9v77M2458.9 2034.8v-38.5M2645.8 10v19M2645.8 1003.4v38M2645.8 2034.8v-19M2832.8 10v38.5M2832.8 983.9v77M2832.8 2034.8v-38.5M3019.8 10v19M3019.8 1003.4v38M3019.8 2034.8v-19M308.5 971.8h19M3206.8 971.8h-19M308.5 870.5h38.5M3206.8 870.5h-38.5M308.5 769.3h19M3206.8 769.3h-19M308.5 668.1h38.5M3206.8 668.1h-38.5M308.5 566.8h19M3206.8 566.8h-19M308.5 465.6h38.5M3206.8 465.6h-38.5M308.5 364.3h19M3206.8 364.3h-19M308.5 263.1h38.5M3206.8 263.1h-38.5M308.5 161.9h19M3206.8 161.9h-19M308.5 60.6h38.5M3206.8 60.6h-38.5M308.5 1984.2h19M3206.8 1984.2h-19M308.5 1882.9h38.5M3206.8 1882.9h-38.5M308.5 1781.7h19M3206.8 1781.7h-19M308.5 1680.5h38.5M3206.8 1680.5h-38.5M308.5 1579.2h19M3206.8 1579.2h-19M308.5 1478h38.5M3206.8 1478h-38.5M308.5 1376.7h19M3206.8 1376.7h-19M308.5 1275.5h38.5M3206.8 1275.5h-38.5M308.5 1174.3h19M3206.8 1174.3h-19M308.5 1073h38.5M3206.8 1073h-38.5"/></g><g font-size="87" text-anchor="end" letter-spacing="-0.8"><text x="265.5" y="895.7">20</text><text x="265.5" y="693.3">40</text><text x="265.5" y="490.8">60</text><text x="265.5" y="288.3">80</text><text x="265.5" y="85.8">00</text><path transform="translate(121.8 85.8) scale(0.04165 -0.04165)" d="M763 0h-180v1147q-65 -62 -170.5 -124t-189.5 -93v174q151 71 264 172t160 196h116z" stroke="#000" stroke-width="19.2"/><text x="265.5" y="1908.1">20</text><text x="265.5" y="1705.7">40</text><text x="265.5" y="1503.2">60</text><text x="265.5" y="1300.7">80</text><text x="265.5" y="1098.2">00</text><path transform="translate(121.8 1098.2) scale(0.04165 -0.04165)" d="M763 0h-180v1147q-65 -62 -170.5 -124t-189.5 -93v174q151 71 264 172t160 196h116z" stroke="#000" stroke-width="19.2"/></g><g font-size="87" text-anchor="middle" letter-spacing="-0.8"><text x="589" y="2144.3">20</text><text x="963" y="2144.3">40</text><text x="1336.9" y="2144.3">60</text><text x="1710.9" y="2144.3">80</text><text x="2060.5" y="2144.3" text-anchor="start">00</text><path transform="translate(2012.9 2144.3) scale(0.04165 -0.04165)" d="M763 0h-180v1147q-65 -62 -170.5 -124t-189.5 -93v174q151 71 264 172t160 196h116z" stroke="#000" stroke-width="19.2"/><text x="2434.5" y="2144.3" text-anchor="start">20</text><path transform="translate(2386.9 2144.3) scale(0.04165 -0.04165)" d="M763 0h-180v1147q-65 -62 -170.5 -124t-189.5 -93v174q151 71 264 172t160 196h116z" stroke="#000" stroke-width="19.2"/><text x="2808.4" y="2144.3" text-anchor="start">40</text><path transform="translate(2760.8 2144.3) scale(0.04165 -0.04165)" d="M763 0h-180v1147q-65 -62 -170.5 -124t-189.5 -93v174q151 71 264 172t160 196h116z" stroke="#000" stroke-width="19.2"/><text x="3182.4" y="2144.3" text-anchor="start">60</text><path transform="translate(3134.8 2144.3) scale(0.04165 -0.04165)" d="M763 0h-180v1147q-65 -62 -170.5 -124t-189.5 -93v174q151 71 264 172t160 196h116z" stroke="#000" stroke-width="19.2"/></g><text x="379" y="162.5" font-size="103" letter-spacing="0.23">(a) For neutron-rich nuclei</text><text x="379" y="1174.9" font-size="103" letter-spacing="0.25">(b) For proton-rich nuclei</text><text x="1384" y="2300.4" font-size="103" letter-spacing="0.75">Neutron number</text><text transform="translate(82.3 856) rotate(-90)" font-size="103" letter-spacing="0.37">Proton number</text><text transform="translate(82.3 1868.4) rotate(-90)" font-size="103" letter-spacing="0.37">Proton number</text><rect x="2209.5" y="684.7" width="917.5" height="246.7" fill="#000"/><rect x="2179.5" y="654.8" width="918.4" height="246.8" fill="#fff" stroke="#000" stroke-width="2.6"/><path d="M2297.7 704l14.6 25.2h-29.1z" fill="#808080" stroke="#808080" stroke-width="1.7" stroke-linejoin="round"/><use href="#r" x="2297.7" y="837.1"/><text x="2428" y="752.6" font-size="95" letter-spacing="0.4">Learning set 0</text><path transform="translate(3035.6 752.6) scale(0.04639 -0.04639)" d="M763 0h-180v1147q-65 -62 -170.5 -124t-189.5 -93v174q151 71 264 172t160 196h116z" stroke="#000" stroke-width="17.2"/><text x="2430" y="869" font-size="95" letter-spacing="0.4">Test set 0</text><path transform="translate(2851.1 869) scale(0.04639 -0.04639)" d="M763 0h-180v1147q-65 -62 -170.5 -124t-189.5 -93v174q151 71 264 172t160 196h116z" stroke="#000" stroke-width="17.2"/><rect x="2209.5" y="1697.1" width="917.5" height="246.7" fill="#000"/><rect x="2179.5" y="1667.2" width="918.4" height="246.8" fill="#fff" stroke="#000" stroke-width="2.6"/><path d="M2297.7 1716.4l14.6 25.2h-29.1z" fill="#808080" stroke="#808080" stroke-width="1.7" stroke-linejoin="round"/><use href="#r" x="2297.7" y="1849.5"/><text x="2428" y="1765" font-size="95" letter-spacing="0.4">Learning set 02</text><text x="2430" y="1881.4" font-size="95" letter-spacing="0.4">Test set 02</text></svg></body></html>
